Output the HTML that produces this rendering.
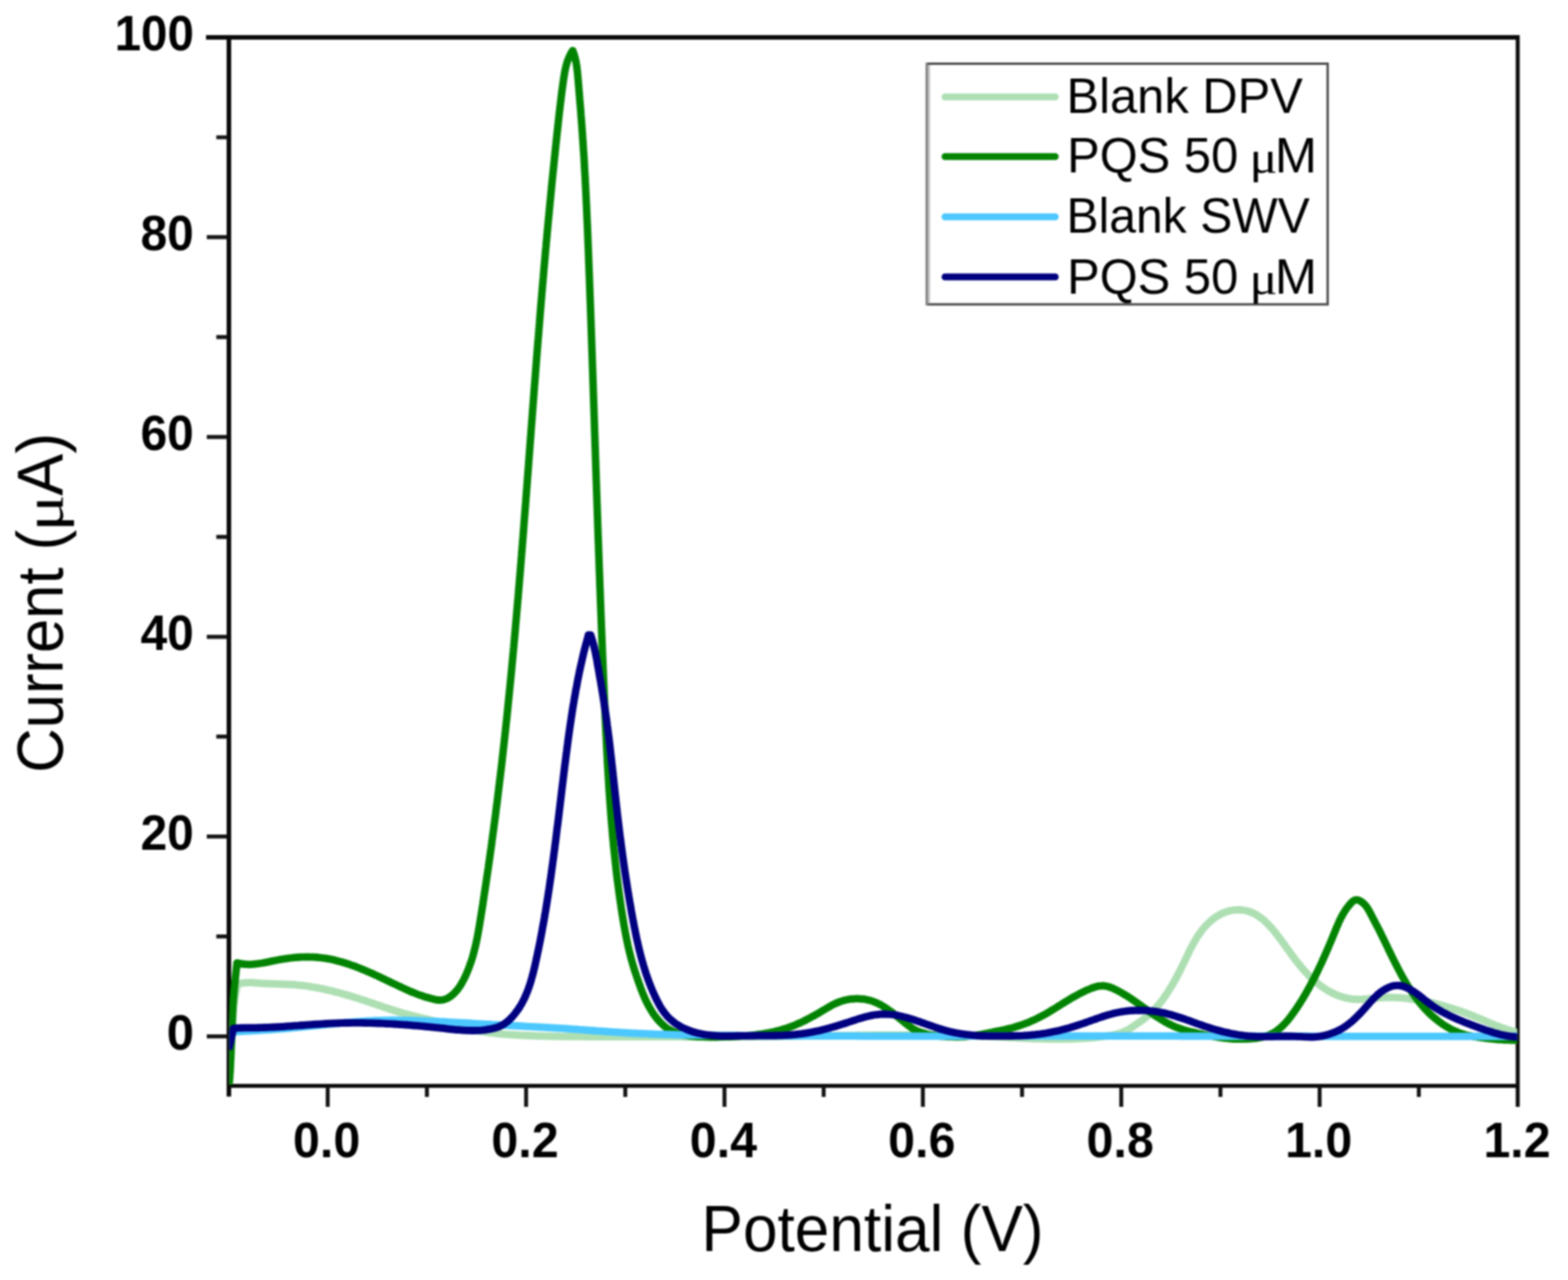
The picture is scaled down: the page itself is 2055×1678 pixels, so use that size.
<!DOCTYPE html>
<html lang="en">
<head>
<meta charset="utf-8">
<title>DPV and SWV voltammograms</title>
<style>
html,body{margin:0;padding:0;background:#fff}
body{width:2055px;height:1678px;overflow:hidden}
svg{display:block;filter:blur(0.8px)}
text{font-family:"Liberation Sans",sans-serif;fill:#000}
.b{font-weight:bold}
.s{font-family:"Liberation Serif",serif}
.c{fill:none;stroke-width:9.8;stroke-linejoin:round;stroke-linecap:butt}
.f{stroke:#141414;fill:none}
</style>
</head>
<body>
<svg width="2055" height="1678" viewBox="0 0 2055 1678">
<rect x="0" y="0" width="2055" height="1678" fill="#ffffff"/>
<defs><clipPath id="plot"><rect x="300.5" y="52" width="1688" height="1370"/></clipPath></defs>
<g fill="#0a0a0a">
<rect x="270" y="46" width="1721" height="6"/>
<rect x="300" y="1420.9" width="1691" height="5.2"/>
<rect x="297" y="46" width="6" height="1391.5"/>
<rect x="1986.5" y="46" width="5.2" height="1405"/>
</g>
<g clip-path="url(#plot)">
<path class="c" stroke="#addfb3" d="M299.5 1430.0C300.1 1421.7 301.9 1398.3 303.0 1380.0C304.1 1361.7 305.0 1334.9 306.3 1320.0C307.6 1305.1 310.2 1295.4 311.0 1290.5L311.0 1290.5C311.8 1290.3 314.2 1289.4 315.8 1289.1C317.4 1288.7 319.0 1288.5 320.7 1288.3C322.3 1288.2 323.9 1288.1 325.6 1288.1C327.3 1288.1 328.9 1288.2 330.6 1288.2C332.3 1288.3 333.9 1288.5 335.6 1288.6C337.3 1288.7 339.0 1288.8 340.6 1288.9C342.3 1289.1 344.0 1289.2 345.7 1289.3C347.3 1289.3 349.0 1289.4 350.7 1289.5C352.4 1289.6 354.0 1289.6 355.7 1289.7C357.4 1289.7 359.1 1289.8 360.7 1289.8C362.4 1289.9 364.1 1289.9 365.8 1290.0C367.4 1290.0 369.1 1290.1 370.8 1290.1C372.4 1290.2 374.1 1290.3 375.8 1290.3C377.4 1290.4 379.1 1290.5 380.8 1290.6C382.4 1290.7 384.1 1290.8 385.7 1290.9C387.4 1291.1 389.0 1291.2 390.7 1291.4C392.4 1291.5 394.0 1291.7 395.7 1291.9C397.3 1292.1 399.0 1292.3 400.6 1292.5C402.3 1292.8 403.9 1293.0 405.5 1293.2C407.2 1293.5 408.8 1293.8 410.5 1294.0C412.1 1294.3 413.7 1294.6 415.4 1294.9C417.0 1295.2 418.6 1295.5 420.3 1295.9C421.9 1296.2 423.5 1296.5 425.2 1296.9C426.8 1297.2 428.4 1297.6 430.0 1298.0C431.7 1298.4 433.3 1298.7 434.9 1299.1C436.5 1299.5 438.1 1299.9 439.8 1300.4C441.4 1300.8 443.0 1301.2 444.6 1301.6C446.2 1302.1 447.8 1302.5 449.4 1303.0C451.0 1303.4 452.7 1303.9 454.3 1304.3C455.9 1304.8 457.5 1305.3 459.1 1305.8C460.7 1306.2 462.3 1306.7 463.9 1307.2C465.5 1307.7 467.0 1308.2 468.6 1308.7C470.2 1309.2 471.8 1309.7 473.4 1310.3C475.0 1310.8 476.6 1311.3 478.2 1311.8C479.8 1312.3 481.3 1312.9 482.9 1313.4C484.5 1313.9 486.1 1314.5 487.7 1315.0C489.2 1315.5 490.8 1316.1 492.4 1316.6C494.0 1317.2 495.5 1317.7 497.1 1318.2C498.7 1318.8 500.3 1319.3 501.8 1319.8C503.4 1320.4 505.0 1320.9 506.6 1321.4C508.2 1322.0 509.7 1322.5 511.3 1323.0C512.9 1323.5 514.5 1324.0 516.1 1324.5C517.7 1325.0 519.2 1325.5 520.8 1326.0C522.4 1326.5 524.0 1327.0 525.6 1327.4C527.2 1327.9 528.8 1328.3 530.4 1328.8C532.0 1329.2 533.6 1329.7 535.2 1330.1C536.8 1330.5 538.5 1331.0 540.1 1331.4C541.7 1331.8 543.3 1332.2 544.9 1332.6C546.5 1333.0 548.2 1333.4 549.8 1333.8C551.4 1334.2 553.0 1334.6 554.6 1335.0C556.3 1335.4 557.9 1335.7 559.5 1336.1C561.1 1336.5 562.8 1336.9 564.4 1337.3C566.0 1337.6 567.6 1338.0 569.3 1338.4C570.9 1338.8 572.5 1339.2 574.1 1339.5C575.8 1339.9 577.4 1340.3 579.0 1340.7C580.6 1341.1 582.3 1341.4 583.9 1341.8C585.5 1342.2 587.1 1342.6 588.8 1343.0C590.4 1343.4 592.0 1343.8 593.6 1344.2C595.3 1344.5 596.9 1344.9 598.5 1345.3C600.1 1345.7 601.8 1346.1 603.4 1346.4C605.0 1346.8 606.6 1347.2 608.2 1347.5C609.9 1347.9 611.5 1348.3 613.1 1348.6C614.8 1349.0 616.4 1349.3 618.0 1349.7C619.6 1350.0 621.3 1350.3 622.9 1350.6C624.5 1351.0 626.2 1351.3 627.8 1351.6C629.5 1351.9 631.1 1352.1 632.7 1352.4C634.4 1352.7 636.0 1353.0 637.7 1353.2C639.3 1353.4 641.0 1353.7 642.6 1353.9C644.3 1354.1 645.9 1354.3 647.6 1354.5C649.2 1354.7 650.9 1354.9 652.5 1355.1C654.2 1355.2 655.9 1355.4 657.5 1355.5C659.2 1355.7 660.8 1355.8 662.5 1355.9C664.2 1356.1 665.8 1356.2 667.5 1356.3C669.2 1356.4 670.8 1356.5 672.5 1356.6C674.2 1356.7 675.8 1356.8 677.5 1356.9C679.2 1357.0 680.8 1357.1 682.5 1357.2C684.2 1357.2 685.8 1357.3 687.5 1357.4C689.2 1357.5 690.8 1357.5 692.5 1357.6C694.2 1357.7 695.8 1357.7 697.5 1357.8C699.2 1357.9 700.8 1357.9 702.5 1358.0C704.2 1358.0 705.8 1358.1 707.5 1358.1C709.2 1358.2 710.8 1358.2 712.5 1358.3C714.2 1358.3 715.8 1358.4 717.5 1358.4C719.2 1358.4 720.8 1358.5 722.5 1358.5C724.2 1358.5 725.8 1358.6 727.5 1358.6C729.2 1358.6 730.8 1358.7 732.5 1358.7C734.2 1358.7 735.8 1358.7 737.5 1358.8C739.2 1358.8 740.8 1358.8 742.5 1358.8C744.2 1358.8 745.8 1358.8 747.5 1358.9C749.2 1358.9 750.8 1358.9 752.5 1358.9C754.2 1358.9 755.8 1358.9 757.5 1358.9C759.2 1358.9 760.8 1358.9 762.5 1358.9C764.2 1359.0 765.8 1359.0 767.5 1359.0C769.2 1359.0 770.8 1359.0 772.5 1359.0C774.2 1359.0 775.8 1359.0 777.5 1359.0C779.2 1359.0 780.8 1359.0 782.5 1359.0C784.2 1359.0 785.8 1359.0 787.5 1359.0C789.2 1359.0 790.8 1359.0 792.5 1359.0C794.2 1359.0 795.8 1359.0 797.5 1359.0C799.2 1359.0 800.8 1359.0 802.5 1359.0C804.2 1359.0 805.8 1359.0 807.5 1359.0C809.2 1359.0 810.8 1359.0 812.5 1359.0C814.2 1359.0 815.8 1359.0 817.5 1359.0C819.2 1359.0 820.8 1359.0 822.5 1359.0C824.2 1359.1 825.8 1359.1 827.5 1359.1C829.2 1359.1 830.8 1359.1 832.5 1359.1C834.2 1359.1 835.8 1359.1 837.5 1359.1C839.2 1359.1 840.8 1359.1 842.5 1359.1C844.2 1359.1 845.8 1359.1 847.5 1359.1C849.2 1359.1 850.8 1359.1 852.5 1359.1C854.2 1359.1 855.8 1359.1 857.5 1359.1C859.2 1359.2 860.8 1359.2 862.5 1359.2C864.2 1359.2 865.8 1359.2 867.5 1359.2C869.2 1359.2 870.8 1359.2 872.5 1359.2C874.2 1359.2 875.8 1359.2 877.5 1359.2C879.2 1359.2 880.8 1359.2 882.5 1359.2C884.2 1359.2 885.8 1359.2 887.5 1359.2C889.2 1359.2 890.9 1359.2 892.5 1359.2C894.2 1359.3 895.9 1359.3 897.5 1359.3C899.2 1359.3 900.9 1359.3 902.5 1359.3C904.2 1359.3 905.9 1359.3 907.5 1359.3C909.2 1359.3 910.9 1359.3 912.5 1359.3C914.2 1359.3 915.9 1359.3 917.5 1359.3C919.2 1359.3 920.9 1359.3 922.5 1359.3C924.2 1359.3 925.9 1359.3 927.5 1359.3C929.2 1359.3 930.9 1359.3 932.5 1359.3C934.2 1359.3 935.9 1359.3 937.5 1359.3C939.2 1359.3 940.9 1359.3 942.5 1359.3C944.2 1359.3 945.9 1359.3 947.5 1359.3C949.2 1359.3 950.9 1359.3 952.5 1359.3C954.2 1359.3 955.9 1359.3 957.5 1359.3C959.2 1359.3 960.9 1359.2 962.5 1359.2C964.2 1359.2 965.9 1359.2 967.5 1359.2C969.2 1359.2 970.9 1359.2 972.5 1359.2C974.2 1359.2 975.9 1359.2 977.5 1359.2C979.2 1359.2 980.9 1359.2 982.5 1359.1C984.2 1359.1 985.9 1359.1 987.5 1359.1C989.2 1359.1 990.9 1359.1 992.5 1359.1C994.2 1359.1 995.8 1359.0 997.5 1359.0C999.2 1359.0 1000.8 1359.0 1002.5 1359.0C1004.2 1359.0 1005.8 1358.9 1007.5 1358.9C1009.2 1358.9 1010.8 1358.9 1012.5 1358.9C1014.2 1358.9 1015.8 1358.8 1017.5 1358.8C1019.2 1358.8 1020.8 1358.8 1022.5 1358.8C1024.1 1358.7 1025.8 1358.7 1027.5 1358.7C1029.1 1358.7 1030.8 1358.6 1032.5 1358.6C1034.1 1358.6 1035.8 1358.6 1037.5 1358.5C1039.1 1358.5 1040.8 1358.5 1042.5 1358.5C1044.1 1358.5 1045.8 1358.4 1047.4 1358.4C1049.1 1358.4 1050.8 1358.4 1052.4 1358.3C1054.1 1358.3 1055.8 1358.3 1057.4 1358.2C1059.1 1358.2 1060.8 1358.2 1062.4 1358.2C1064.1 1358.1 1065.7 1358.1 1067.4 1358.1C1069.1 1358.1 1070.7 1358.0 1072.4 1358.0C1074.1 1358.0 1075.7 1358.0 1077.4 1357.9C1079.1 1357.9 1080.7 1357.9 1082.4 1357.9C1084.0 1357.8 1085.7 1357.8 1087.4 1357.8C1089.0 1357.7 1090.7 1357.7 1092.4 1357.7C1094.0 1357.7 1095.7 1357.6 1097.4 1357.6C1099.0 1357.6 1100.7 1357.6 1102.3 1357.5C1104.0 1357.5 1105.7 1357.5 1107.3 1357.5C1109.0 1357.4 1110.7 1357.4 1112.3 1357.4C1114.0 1357.4 1115.7 1357.4 1117.3 1357.3C1119.0 1357.3 1120.7 1357.3 1122.3 1357.3C1124.0 1357.2 1125.6 1357.2 1127.3 1357.2C1129.0 1357.2 1130.6 1357.2 1132.3 1357.1C1134.0 1357.1 1135.6 1357.1 1137.3 1357.1C1139.0 1357.1 1140.6 1357.0 1142.3 1357.0C1144.0 1357.0 1145.6 1357.0 1147.3 1357.0C1148.9 1357.0 1150.6 1356.9 1152.3 1356.9C1153.9 1356.9 1155.6 1356.9 1157.3 1356.9C1158.9 1356.9 1160.6 1356.9 1162.3 1356.9C1163.9 1356.8 1165.6 1356.8 1167.3 1356.8C1168.9 1356.8 1170.6 1356.8 1172.3 1356.8C1173.9 1356.8 1175.6 1356.8 1177.3 1356.8C1178.9 1356.8 1180.6 1356.8 1182.3 1356.8C1183.9 1356.8 1185.6 1356.8 1187.3 1356.8C1188.9 1356.8 1190.6 1356.8 1192.3 1356.8C1193.9 1356.8 1195.6 1356.8 1197.3 1356.8C1198.9 1356.8 1200.6 1356.8 1202.3 1356.8C1203.9 1356.8 1205.6 1356.8 1207.3 1356.8C1208.9 1356.8 1210.6 1356.8 1212.3 1356.8C1213.9 1356.9 1215.6 1356.9 1217.3 1356.9C1218.9 1356.9 1220.6 1356.9 1222.3 1356.9C1223.9 1357.0 1225.6 1357.0 1227.3 1357.0C1229.0 1357.0 1230.6 1357.0 1232.3 1357.1C1234.0 1357.1 1235.6 1357.1 1237.3 1357.1C1239.0 1357.2 1240.6 1357.2 1242.3 1357.2C1244.0 1357.2 1245.7 1357.3 1247.3 1357.3C1249.0 1357.3 1250.7 1357.4 1252.3 1357.4C1254.0 1357.5 1255.7 1357.5 1257.4 1357.5C1259.0 1357.6 1260.7 1357.6 1262.4 1357.7C1264.0 1357.7 1265.7 1357.7 1267.4 1357.8C1269.1 1357.8 1270.7 1357.9 1272.4 1357.9C1274.1 1358.0 1275.7 1358.0 1277.4 1358.1C1279.1 1358.2 1280.8 1358.2 1282.4 1358.3C1284.1 1358.3 1285.8 1358.4 1287.5 1358.5C1289.1 1358.5 1290.8 1358.6 1292.5 1358.7C1294.2 1358.7 1295.8 1358.8 1297.5 1358.9C1299.2 1358.9 1300.9 1359.0 1302.5 1359.1C1304.2 1359.2 1305.9 1359.3 1307.6 1359.3C1309.2 1359.4 1310.9 1359.5 1312.6 1359.6C1314.3 1359.7 1316.0 1359.7 1317.6 1359.8C1319.3 1359.9 1321.0 1360.0 1322.7 1360.1C1324.3 1360.2 1326.0 1360.3 1327.7 1360.3C1329.4 1360.4 1331.0 1360.5 1332.7 1360.6C1334.4 1360.7 1336.1 1360.8 1337.8 1360.8C1339.4 1360.9 1341.1 1361.0 1342.8 1361.1C1344.5 1361.1 1346.1 1361.2 1347.8 1361.3C1349.5 1361.4 1351.2 1361.4 1352.8 1361.5C1354.5 1361.6 1356.2 1361.6 1357.9 1361.7C1359.5 1361.7 1361.2 1361.8 1362.9 1361.9C1364.6 1361.9 1366.2 1362.0 1367.9 1362.0C1369.6 1362.0 1371.2 1362.1 1372.9 1362.1C1374.6 1362.1 1376.3 1362.2 1377.9 1362.2C1379.6 1362.2 1381.3 1362.2 1382.9 1362.2C1384.6 1362.3 1386.3 1362.3 1387.9 1362.3C1389.6 1362.3 1391.3 1362.3 1392.9 1362.2C1394.6 1362.2 1396.3 1362.2 1397.9 1362.2C1399.6 1362.1 1401.3 1362.1 1402.9 1362.1C1404.6 1362.0 1406.3 1362.0 1407.9 1361.9C1409.6 1361.8 1411.2 1361.8 1412.9 1361.7C1414.5 1361.6 1416.2 1361.5 1417.9 1361.4C1419.5 1361.3 1421.2 1361.2 1422.8 1361.1C1424.5 1361.0 1426.1 1360.9 1427.8 1360.7C1429.4 1360.6 1431.1 1360.4 1432.7 1360.3C1434.4 1360.1 1436.0 1359.9 1437.7 1359.8C1439.3 1359.6 1441.0 1359.4 1442.6 1359.2C1444.3 1359.0 1445.9 1358.7 1447.5 1358.5C1449.2 1358.3 1450.8 1358.0 1452.5 1357.8C1454.1 1357.5 1455.7 1357.3 1457.4 1357.0C1459.0 1356.7 1460.6 1356.4 1462.2 1356.0C1463.9 1355.6 1465.5 1355.2 1467.0 1354.8C1468.6 1354.3 1470.2 1353.7 1471.7 1353.1C1473.2 1352.5 1474.7 1351.7 1476.2 1351.0C1477.7 1350.2 1479.1 1349.4 1480.5 1348.5C1482.0 1347.6 1483.4 1346.7 1484.8 1345.8C1486.2 1344.9 1487.6 1343.9 1489.0 1343.0C1490.4 1342.0 1491.8 1341.1 1493.2 1340.1C1494.6 1339.2 1495.9 1338.2 1497.3 1337.2C1498.6 1336.2 1500.0 1335.2 1501.3 1334.2C1502.6 1333.2 1503.9 1332.1 1505.1 1331.0C1506.4 1329.9 1507.6 1328.8 1508.8 1327.7C1510.0 1326.5 1511.2 1325.3 1512.4 1324.1C1513.5 1322.9 1514.7 1321.7 1515.8 1320.4C1516.9 1319.2 1517.9 1317.9 1519.0 1316.6C1520.0 1315.3 1521.1 1314.0 1522.1 1312.7C1523.1 1311.3 1524.1 1310.0 1525.1 1308.6C1526.0 1307.3 1527.0 1305.9 1527.9 1304.6C1528.9 1303.2 1529.8 1301.8 1530.7 1300.4C1531.6 1299.0 1532.5 1297.6 1533.3 1296.2C1534.2 1294.8 1535.1 1293.4 1535.9 1292.0C1536.8 1290.5 1537.6 1289.1 1538.4 1287.6C1539.2 1286.2 1540.0 1284.7 1540.8 1283.3C1541.6 1281.8 1542.4 1280.4 1543.2 1278.9C1543.9 1277.4 1544.7 1275.9 1545.5 1274.5C1546.2 1273.0 1547.0 1271.5 1547.7 1270.0C1548.5 1268.5 1549.2 1267.0 1549.9 1265.5C1550.7 1264.0 1551.4 1262.5 1552.1 1261.0C1552.9 1259.5 1553.6 1257.9 1554.3 1256.4C1555.0 1254.9 1555.8 1253.4 1556.5 1251.9C1557.2 1250.4 1557.9 1248.8 1558.7 1247.3C1559.4 1245.8 1560.2 1244.3 1560.9 1242.8C1561.7 1241.4 1562.5 1239.9 1563.3 1238.4C1564.1 1236.9 1564.9 1235.5 1565.7 1234.0C1566.5 1232.6 1567.4 1231.2 1568.2 1229.7C1569.1 1228.3 1570.0 1226.9 1570.9 1225.6C1571.9 1224.2 1572.8 1222.8 1573.8 1221.5C1574.8 1220.2 1575.8 1218.9 1576.8 1217.6C1577.9 1216.3 1578.9 1215.1 1580.1 1213.8C1581.2 1212.6 1582.3 1211.4 1583.5 1210.3C1584.7 1209.1 1586.0 1208.0 1587.3 1206.9C1588.5 1205.8 1589.9 1204.8 1591.2 1203.8C1592.6 1202.8 1594.0 1201.8 1595.4 1200.9C1596.8 1200.1 1598.3 1199.2 1599.8 1198.4C1601.3 1197.7 1602.8 1197.0 1604.3 1196.3C1605.9 1195.7 1607.5 1195.1 1609.1 1194.7C1610.7 1194.2 1612.3 1193.8 1614.0 1193.5C1615.6 1193.1 1617.3 1192.9 1618.9 1192.8C1620.6 1192.6 1622.3 1192.6 1623.9 1192.6C1625.6 1192.7 1627.3 1192.8 1628.9 1193.0C1630.6 1193.2 1632.2 1193.6 1633.8 1194.0C1635.4 1194.4 1637.0 1194.9 1638.6 1195.5C1640.1 1196.0 1641.7 1196.7 1643.1 1197.4C1644.6 1198.1 1646.1 1198.9 1647.5 1199.8C1648.9 1200.7 1650.3 1201.6 1651.6 1202.6C1653.0 1203.5 1654.3 1204.6 1655.5 1205.6C1656.8 1206.7 1658.0 1207.9 1659.2 1209.0C1660.5 1210.2 1661.6 1211.4 1662.8 1212.6C1664.0 1213.8 1665.1 1215.1 1666.2 1216.3C1667.3 1217.6 1668.4 1218.9 1669.5 1220.2C1670.6 1221.5 1671.6 1222.8 1672.7 1224.1C1673.7 1225.5 1674.7 1226.8 1675.7 1228.1C1676.7 1229.4 1677.7 1230.8 1678.7 1232.1C1679.7 1233.5 1680.7 1234.8 1681.7 1236.1C1682.7 1237.5 1683.6 1238.8 1684.6 1240.2C1685.6 1241.5 1686.5 1242.9 1687.5 1244.2C1688.5 1245.6 1689.4 1246.9 1690.4 1248.3C1691.4 1249.6 1692.4 1250.9 1693.3 1252.3C1694.3 1253.6 1695.3 1254.9 1696.3 1256.3C1697.3 1257.6 1698.3 1258.9 1699.3 1260.2C1700.3 1261.5 1701.3 1262.8 1702.4 1264.1C1703.4 1265.4 1704.5 1266.7 1705.6 1268.0C1706.6 1269.3 1707.7 1270.6 1708.9 1271.8C1710.0 1273.1 1711.1 1274.3 1712.3 1275.5C1713.4 1276.8 1714.6 1278.0 1715.8 1279.2C1717.0 1280.4 1718.2 1281.5 1719.5 1282.7C1720.7 1283.8 1721.9 1285.0 1723.2 1286.1C1724.5 1287.2 1725.8 1288.3 1727.1 1289.3C1728.4 1290.4 1729.7 1291.4 1731.1 1292.4C1732.4 1293.4 1733.8 1294.4 1735.2 1295.3C1736.6 1296.2 1738.0 1297.1 1739.4 1298.0C1740.8 1298.8 1742.2 1299.7 1743.7 1300.5C1745.1 1301.2 1746.6 1302.0 1748.1 1302.7C1749.6 1303.4 1751.1 1304.0 1752.6 1304.6C1754.1 1305.3 1755.6 1305.8 1757.2 1306.3C1758.7 1306.9 1760.3 1307.3 1761.9 1307.7C1763.4 1308.1 1765.0 1308.5 1766.6 1308.8C1768.2 1309.1 1769.9 1309.4 1771.5 1309.6C1773.1 1309.8 1774.8 1309.9 1776.4 1310.0C1778.1 1310.1 1779.7 1310.1 1781.4 1310.1C1783.1 1310.1 1784.8 1310.0 1786.5 1309.9C1788.2 1309.8 1789.9 1309.7 1791.6 1309.6C1793.3 1309.5 1795.0 1309.3 1796.7 1309.2C1798.4 1309.0 1800.1 1308.8 1801.8 1308.7C1803.5 1308.5 1805.2 1308.3 1806.9 1308.2C1808.6 1308.0 1810.3 1307.9 1812.0 1307.8C1813.7 1307.7 1815.4 1307.6 1817.1 1307.5C1818.8 1307.5 1820.4 1307.5 1822.1 1307.5C1823.8 1307.5 1825.4 1307.5 1827.1 1307.6C1828.7 1307.6 1830.4 1307.7 1832.0 1307.8C1833.7 1307.9 1835.3 1308.1 1837.0 1308.2C1838.6 1308.4 1840.2 1308.5 1841.9 1308.7C1843.5 1308.9 1845.2 1309.1 1846.8 1309.3C1848.4 1309.5 1850.1 1309.7 1851.7 1309.9C1853.4 1310.2 1855.0 1310.4 1856.6 1310.7C1858.3 1311.0 1859.9 1311.2 1861.5 1311.5C1863.2 1311.8 1864.8 1312.1 1866.4 1312.5C1868.1 1312.8 1869.7 1313.1 1871.3 1313.5C1873.0 1313.8 1874.6 1314.2 1876.2 1314.5C1877.8 1314.9 1879.5 1315.3 1881.1 1315.7C1882.7 1316.1 1884.3 1316.5 1885.9 1316.9C1887.6 1317.4 1889.2 1317.8 1890.8 1318.2C1892.4 1318.7 1894.0 1319.1 1895.6 1319.6C1897.2 1320.1 1898.8 1320.6 1900.4 1321.1C1902.0 1321.6 1903.6 1322.1 1905.2 1322.6C1906.8 1323.1 1908.4 1323.6 1910.0 1324.2C1911.5 1324.7 1913.1 1325.3 1914.7 1325.8C1916.3 1326.4 1917.8 1326.9 1919.4 1327.5C1921.0 1328.1 1922.5 1328.7 1924.1 1329.3C1925.7 1329.9 1927.2 1330.5 1928.8 1331.1C1930.3 1331.7 1931.8 1332.4 1933.4 1333.0C1934.9 1333.6 1936.5 1334.3 1938.0 1334.9C1939.5 1335.5 1941.1 1336.2 1942.6 1336.8C1944.1 1337.5 1945.7 1338.1 1947.2 1338.8C1948.7 1339.4 1950.3 1340.1 1951.8 1340.7C1953.3 1341.3 1954.9 1342.0 1956.4 1342.6C1958.0 1343.2 1959.5 1343.9 1961.0 1344.5C1962.6 1345.1 1964.1 1345.7 1965.7 1346.3C1967.2 1346.9 1968.8 1347.5 1970.4 1348.0C1971.9 1348.6 1973.5 1349.1 1975.1 1349.7C1976.7 1350.2 1978.2 1350.7 1979.8 1351.2C1981.4 1351.7 1983.0 1352.2 1984.6 1352.7C1986.2 1353.1 1988.7 1353.8 1989.5 1354.0"/>
<path class="c" stroke="#028402" d="M299.0 1430.0C299.4 1425.7 300.5 1422.9 301.6 1404.0C302.7 1385.1 303.9 1340.4 305.4 1316.8C306.9 1293.2 309.7 1271.4 310.6 1262.3L310.6 1262.3C311.4 1262.5 314.0 1263.1 315.7 1263.4C317.4 1263.7 319.0 1263.9 320.7 1264.0C322.4 1264.2 324.0 1264.2 325.7 1264.3C327.4 1264.3 329.0 1264.2 330.7 1264.1C332.3 1264.0 333.9 1263.9 335.6 1263.7C337.2 1263.5 338.9 1263.3 340.5 1263.0C342.1 1262.8 343.8 1262.5 345.4 1262.2C347.0 1261.9 348.7 1261.6 350.3 1261.2C351.9 1260.9 353.6 1260.6 355.2 1260.2C356.9 1259.9 358.5 1259.5 360.1 1259.2C361.8 1258.9 363.4 1258.6 365.1 1258.3C366.7 1258.0 368.4 1257.7 370.1 1257.4C371.7 1257.1 373.4 1256.9 375.1 1256.6C376.7 1256.4 378.4 1256.2 380.1 1256.0C381.7 1255.8 383.4 1255.6 385.1 1255.4C386.8 1255.3 388.4 1255.1 390.1 1255.0C391.8 1254.9 393.5 1254.8 395.1 1254.7C396.8 1254.7 398.5 1254.6 400.2 1254.6C401.8 1254.5 403.5 1254.5 405.2 1254.6C406.8 1254.6 408.5 1254.6 410.2 1254.7C411.8 1254.8 413.5 1254.9 415.2 1255.0C416.8 1255.1 418.5 1255.3 420.1 1255.5C421.8 1255.7 423.4 1255.9 425.0 1256.1C426.7 1256.3 428.3 1256.6 429.9 1256.9C431.6 1257.2 433.2 1257.5 434.8 1257.8C436.4 1258.2 438.0 1258.5 439.6 1258.9C441.2 1259.3 442.8 1259.7 444.4 1260.2C446.0 1260.6 447.6 1261.0 449.2 1261.5C450.8 1262.0 452.4 1262.5 454.0 1263.0C455.6 1263.5 457.2 1264.0 458.7 1264.6C460.3 1265.1 461.9 1265.7 463.4 1266.2C465.0 1266.8 466.6 1267.4 468.1 1268.0C469.7 1268.6 471.3 1269.2 472.8 1269.9C474.4 1270.5 475.9 1271.1 477.5 1271.8C479.0 1272.4 480.6 1273.1 482.1 1273.8C483.7 1274.4 485.2 1275.1 486.8 1275.8C488.3 1276.5 489.8 1277.2 491.4 1277.9C492.9 1278.6 494.4 1279.3 496.0 1280.0C497.5 1280.7 499.0 1281.4 500.6 1282.2C502.1 1282.9 503.6 1283.6 505.1 1284.3C506.7 1285.1 508.2 1285.8 509.7 1286.5C511.2 1287.2 512.7 1288.0 514.2 1288.7C515.8 1289.4 517.3 1290.1 518.8 1290.8C520.3 1291.6 521.8 1292.3 523.3 1293.0C524.8 1293.7 526.4 1294.4 527.9 1295.1C529.4 1295.8 530.9 1296.5 532.4 1297.2C533.9 1297.9 535.4 1298.5 537.0 1299.2C538.5 1299.9 540.0 1300.5 541.5 1301.1C543.1 1301.8 544.6 1302.4 546.2 1303.0C547.7 1303.6 549.3 1304.2 550.8 1304.7C552.4 1305.3 553.9 1305.8 555.5 1306.3C557.1 1306.9 558.7 1307.3 560.3 1307.8C561.9 1308.3 563.5 1308.7 565.1 1309.1C566.8 1309.5 568.4 1310.0 570.1 1310.3C571.7 1310.6 573.4 1310.9 575.0 1311.0C576.7 1311.1 578.3 1311.1 579.9 1310.8C581.5 1310.6 583.1 1310.1 584.6 1309.5C586.2 1308.9 587.7 1308.0 589.1 1307.1C590.5 1306.2 591.9 1305.1 593.2 1304.0C594.5 1302.9 595.7 1301.7 596.9 1300.4C598.1 1299.2 599.1 1297.8 600.2 1296.5C601.2 1295.1 602.2 1293.7 603.1 1292.3C604.0 1290.9 604.9 1289.4 605.7 1288.0C606.5 1286.5 607.3 1285.0 608.1 1283.5C608.9 1282.0 609.6 1280.4 610.3 1278.9C611.0 1277.4 611.7 1275.8 612.3 1274.3C613.0 1272.7 613.6 1271.2 614.2 1269.6C614.8 1268.1 615.4 1266.5 615.9 1264.9C616.5 1263.4 617.0 1261.8 617.6 1260.2C618.1 1258.6 618.6 1257.0 619.1 1255.5C619.5 1253.9 620.0 1252.3 620.4 1250.7C620.9 1249.1 621.3 1247.4 621.7 1245.8C622.1 1244.2 622.5 1242.6 622.9 1241.0C623.3 1239.4 623.7 1237.7 624.0 1236.1C624.4 1234.5 624.7 1232.9 625.1 1231.2C625.4 1229.6 625.7 1227.9 626.0 1226.3C626.3 1224.7 626.6 1223.0 626.9 1221.4C627.2 1219.7 627.5 1218.1 627.8 1216.4C628.1 1214.8 628.4 1213.1 628.6 1211.5C628.9 1209.8 629.2 1208.2 629.4 1206.5C629.7 1204.9 630.0 1203.2 630.2 1201.6C630.5 1199.9 630.8 1198.3 631.0 1196.6C631.3 1195.0 631.5 1193.3 631.8 1191.7C632.0 1190.0 632.3 1188.4 632.6 1186.7C632.8 1185.1 633.1 1183.4 633.3 1181.7C633.6 1180.1 633.8 1178.4 634.1 1176.8C634.3 1175.1 634.6 1173.5 634.8 1171.8C635.1 1170.2 635.3 1168.5 635.6 1166.9C635.8 1165.2 636.1 1163.6 636.3 1161.9C636.6 1160.2 636.8 1158.6 637.1 1156.9C637.3 1155.3 637.6 1153.6 637.8 1152.0C638.0 1150.3 638.3 1148.7 638.5 1147.0C638.8 1145.4 639.0 1143.7 639.3 1142.0C639.5 1140.4 639.7 1138.7 640.0 1137.1C640.2 1135.4 640.4 1133.8 640.7 1132.1C640.9 1130.5 641.2 1128.8 641.4 1127.2C641.6 1125.5 641.9 1123.8 642.1 1122.2C642.3 1120.5 642.6 1118.9 642.8 1117.2C643.0 1115.6 643.2 1113.9 643.5 1112.3C643.7 1110.6 643.9 1108.9 644.2 1107.3C644.4 1105.6 644.6 1104.0 644.8 1102.3C645.1 1100.7 645.3 1099.0 645.5 1097.3C645.7 1095.7 646.0 1094.0 646.2 1092.4C646.4 1090.7 646.6 1089.1 646.9 1087.4C647.1 1085.7 647.3 1084.1 647.5 1082.4C647.7 1080.8 648.0 1079.1 648.2 1077.5C648.4 1075.8 648.6 1074.2 648.8 1072.5C649.0 1070.8 649.3 1069.2 649.5 1067.5C649.7 1065.9 649.9 1064.2 650.1 1062.5C650.3 1060.9 650.5 1059.2 650.7 1057.6C650.9 1055.9 651.2 1054.3 651.4 1052.6C651.6 1050.9 651.8 1049.3 652.0 1047.6C652.2 1046.0 652.4 1044.3 652.6 1042.7C652.8 1041.0 653.0 1039.3 653.2 1037.7C653.4 1036.0 653.6 1034.4 653.8 1032.7C654.0 1031.0 654.2 1029.4 654.4 1027.7C654.6 1026.1 654.8 1024.4 655.0 1022.7C655.2 1021.1 655.4 1019.4 655.6 1017.8C655.8 1016.1 656.0 1014.5 656.2 1012.8C656.4 1011.1 656.6 1009.5 656.8 1007.8C657.0 1006.2 657.2 1004.5 657.4 1002.8C657.6 1001.2 657.8 999.5 658.0 997.9C658.1 996.2 658.3 994.5 658.5 992.9C658.7 991.2 658.9 989.6 659.1 987.9C659.3 986.2 659.5 984.6 659.6 982.9C659.8 981.3 660.0 979.6 660.2 977.9C660.4 976.3 660.6 974.6 660.8 973.0C660.9 971.3 661.1 969.6 661.3 968.0C661.5 966.3 661.7 964.6 661.8 963.0C662.0 961.3 662.2 959.7 662.4 958.0C662.6 956.3 662.7 954.7 662.9 953.0C663.1 951.4 663.3 949.7 663.4 948.0C663.6 946.4 663.8 944.7 664.0 943.1C664.1 941.4 664.3 939.7 664.5 938.1C664.7 936.4 664.8 934.7 665.0 933.1C665.2 931.4 665.4 929.8 665.5 928.1C665.7 926.4 665.9 924.8 666.0 923.1C666.2 921.4 666.4 919.8 666.5 918.1C666.7 916.5 666.9 914.8 667.0 913.1C667.2 911.5 667.4 909.8 667.5 908.2C667.7 906.5 667.9 904.8 668.0 903.2C668.2 901.5 668.4 899.8 668.5 898.2C668.7 896.5 668.9 894.8 669.0 893.2C669.2 891.5 669.3 889.9 669.5 888.2C669.7 886.5 669.8 884.9 670.0 883.2C670.1 881.5 670.3 879.9 670.5 878.2C670.6 876.6 670.8 874.9 670.9 873.2C671.1 871.6 671.2 869.9 671.4 868.2C671.6 866.6 671.7 864.9 671.9 863.2C672.0 861.6 672.2 859.9 672.3 858.3C672.5 856.6 672.6 854.9 672.8 853.3C672.9 851.6 673.1 849.9 673.3 848.3C673.4 846.6 673.6 844.9 673.7 843.3C673.9 841.6 674.0 840.0 674.2 838.3C674.3 836.6 674.5 835.0 674.6 833.3C674.8 831.6 674.9 830.0 675.1 828.3C675.2 826.6 675.4 825.0 675.5 823.3C675.6 821.7 675.8 820.0 675.9 818.3C676.1 816.7 676.2 815.0 676.4 813.3C676.5 811.7 676.7 810.0 676.8 808.3C677.0 806.7 677.1 805.0 677.2 803.3C677.4 801.7 677.5 800.0 677.7 798.3C677.8 796.7 678.0 795.0 678.1 793.4C678.3 791.7 678.4 790.0 678.5 788.4C678.7 786.7 678.8 785.0 679.0 783.4C679.1 781.7 679.2 780.0 679.4 778.4C679.5 776.7 679.7 775.0 679.8 773.4C679.9 771.7 680.1 770.0 680.2 768.4C680.4 766.7 680.5 765.0 680.6 763.4C680.8 761.7 680.9 760.0 681.0 758.4C681.2 756.7 681.3 755.1 681.5 753.4C681.6 751.7 681.7 750.1 681.9 748.4C682.0 746.7 682.1 745.1 682.3 743.4C682.4 741.7 682.5 740.1 682.7 738.4C682.8 736.7 682.9 735.1 683.1 733.4C683.2 731.7 683.3 730.1 683.5 728.4C683.6 726.7 683.7 725.1 683.9 723.4C684.0 721.7 684.1 720.1 684.3 718.4C684.4 716.7 684.5 715.1 684.7 713.4C684.8 711.7 684.9 710.1 685.1 708.4C685.2 706.7 685.3 705.1 685.5 703.4C685.6 701.7 685.7 700.1 685.9 698.4C686.0 696.7 686.1 695.1 686.3 693.4C686.4 691.7 686.5 690.1 686.6 688.4C686.8 686.8 686.9 685.1 687.0 683.4C687.2 681.8 687.3 680.1 687.4 678.4C687.5 676.8 687.7 675.1 687.8 673.4C687.9 671.8 688.1 670.1 688.2 668.4C688.3 666.8 688.4 665.1 688.6 663.4C688.7 661.8 688.8 660.1 689.0 658.4C689.1 656.8 689.2 655.1 689.3 653.4C689.5 651.8 689.6 650.1 689.7 648.4C689.9 646.8 690.0 645.1 690.1 643.4C690.2 641.8 690.4 640.1 690.5 638.4C690.6 636.8 690.7 635.1 690.9 633.4C691.0 631.8 691.1 630.1 691.2 628.4C691.4 626.8 691.5 625.1 691.6 623.4C691.8 621.8 691.9 620.1 692.0 618.4C692.1 616.8 692.3 615.1 692.4 613.4C692.5 611.8 692.6 610.1 692.8 608.4C692.9 606.8 693.0 605.1 693.1 603.4C693.3 601.8 693.4 600.1 693.5 598.4C693.6 596.8 693.8 595.1 693.9 593.4C694.0 591.8 694.1 590.1 694.3 588.4C694.4 586.8 694.5 585.1 694.6 583.4C694.8 581.8 694.9 580.1 695.0 578.4C695.1 576.8 695.3 575.1 695.4 573.4C695.5 571.8 695.6 570.1 695.8 568.4C695.9 566.8 696.0 565.1 696.1 563.4C696.3 561.8 696.4 560.1 696.5 558.4C696.7 556.8 696.8 555.1 696.9 553.4C697.0 551.8 697.2 550.1 697.3 548.4C697.4 546.8 697.5 545.1 697.7 543.4C697.8 541.8 697.9 540.1 698.0 538.4C698.2 536.8 698.3 535.1 698.4 533.4C698.5 531.8 698.7 530.1 698.8 528.4C698.9 526.8 699.0 525.1 699.2 523.4C699.3 521.8 699.4 520.1 699.6 518.4C699.7 516.8 699.8 515.1 699.9 513.4C700.1 511.8 700.2 510.1 700.3 508.4C700.4 506.8 700.6 505.1 700.7 503.4C700.8 501.8 701.0 500.1 701.1 498.4C701.2 496.8 701.3 495.1 701.5 493.4C701.6 491.8 701.7 490.1 701.9 488.4C702.0 486.8 702.1 485.1 702.2 483.4C702.4 481.8 702.5 480.1 702.6 478.4C702.8 476.8 702.9 475.1 703.0 473.4C703.2 471.8 703.3 470.1 703.4 468.4C703.5 466.8 703.7 465.1 703.8 463.4C703.9 461.8 704.1 460.1 704.2 458.4C704.3 456.8 704.5 455.1 704.6 453.4C704.7 451.8 704.9 450.1 705.0 448.4C705.1 446.8 705.2 445.1 705.4 443.5C705.5 441.8 705.6 440.1 705.8 438.5C705.9 436.8 706.0 435.1 706.2 433.5C706.3 431.8 706.4 430.1 706.6 428.5C706.7 426.8 706.8 425.1 707.0 423.5C707.1 421.8 707.3 420.1 707.4 418.5C707.5 416.8 707.7 415.1 707.8 413.5C707.9 411.8 708.1 410.1 708.2 408.5C708.3 406.8 708.5 405.1 708.6 403.5C708.8 401.8 708.9 400.1 709.0 398.5C709.2 396.8 709.3 395.1 709.4 393.5C709.6 391.8 709.7 390.2 709.9 388.5C710.0 386.8 710.1 385.2 710.3 383.5C710.4 381.8 710.6 380.2 710.7 378.5C710.8 376.8 711.0 375.2 711.1 373.5C711.3 371.8 711.4 370.2 711.6 368.5C711.7 366.8 711.8 365.2 712.0 363.5C712.1 361.8 712.3 360.2 712.4 358.5C712.6 356.9 712.7 355.2 712.8 353.5C713.0 351.9 713.1 350.2 713.3 348.5C713.4 346.9 713.6 345.2 713.7 343.5C713.9 341.9 714.0 340.2 714.2 338.5C714.3 336.9 714.5 335.2 714.6 333.6C714.7 331.9 714.9 330.2 715.0 328.6C715.2 326.9 715.3 325.2 715.5 323.6C715.6 321.9 715.8 320.2 715.9 318.6C716.1 316.9 716.2 315.2 716.4 313.6C716.6 311.9 716.7 310.3 716.9 308.6C717.0 306.9 717.2 305.3 717.3 303.6C717.5 301.9 717.6 300.3 717.8 298.6C717.9 296.9 718.1 295.3 718.2 293.6C718.4 292.0 718.6 290.3 718.7 288.6C718.9 287.0 719.0 285.3 719.2 283.6C719.3 282.0 719.5 280.3 719.7 278.6C719.8 277.0 720.0 275.3 720.1 273.7C720.3 272.0 720.5 270.3 720.6 268.7C720.8 267.0 720.9 265.3 721.1 263.7C721.3 262.0 721.4 260.4 721.6 258.7C721.7 257.0 721.9 255.4 722.1 253.7C722.2 252.0 722.4 250.4 722.6 248.7C722.7 247.0 722.9 245.4 723.0 243.7C723.2 242.1 723.4 240.4 723.5 238.7C723.7 237.1 723.9 235.4 724.0 233.7C724.2 232.1 724.4 230.4 724.5 228.8C724.7 227.1 724.9 225.4 725.0 223.8C725.2 222.1 725.4 220.4 725.6 218.8C725.7 217.1 725.9 215.5 726.1 213.8C726.2 212.1 726.4 210.5 726.6 208.8C726.7 207.1 726.9 205.5 727.1 203.8C727.3 202.2 727.4 200.5 727.6 198.8C727.8 197.2 727.9 195.5 728.1 193.9C728.3 192.2 728.5 190.5 728.6 188.9C728.8 187.2 729.0 185.5 729.2 183.9C729.3 182.2 729.5 180.6 729.7 178.9C729.9 177.2 730.1 175.6 730.2 173.9C730.4 172.2 730.6 170.6 730.8 168.9C730.9 167.3 731.1 165.6 731.3 163.9C731.5 162.3 731.7 160.6 731.8 159.0C732.0 157.3 732.2 155.6 732.4 154.0C732.6 152.3 732.8 150.6 732.9 149.0C733.1 147.3 733.3 145.7 733.5 144.0C733.7 142.3 733.9 140.7 734.1 139.0C734.3 137.4 734.5 135.7 734.7 134.0C734.9 132.4 735.1 130.7 735.3 129.1C735.5 127.4 735.7 125.7 735.9 124.1C736.1 122.4 736.3 120.8 736.5 119.1C736.8 117.5 737.0 115.8 737.2 114.1C737.4 112.5 737.7 110.8 737.9 109.2C738.1 107.5 738.4 105.8 738.6 104.2C738.8 102.5 739.1 100.9 739.4 99.2C739.6 97.6 739.9 95.9 740.2 94.3C740.5 92.6 740.8 91.0 741.2 89.4C741.5 87.8 741.9 86.2 742.4 84.6C742.8 83.0 743.3 81.4 743.9 79.8C744.4 78.2 745.0 76.7 745.7 75.2C746.4 73.6 747.1 72.1 747.9 70.7C748.7 69.2 750.2 67.0 750.6 66.3L750.6 66.3C750.9 67.1 751.8 69.5 752.3 71.0C752.8 72.6 753.3 74.2 753.7 75.9C754.1 77.5 754.5 79.1 754.8 80.7C755.1 82.4 755.4 84.0 755.7 85.6C755.9 87.3 756.1 88.9 756.3 90.6C756.5 92.2 756.7 93.9 756.9 95.6C757.0 97.2 757.2 98.9 757.3 100.5C757.5 102.2 757.6 103.9 757.8 105.5C757.9 107.2 758.0 108.9 758.2 110.5C758.3 112.2 758.5 113.9 758.6 115.5C758.7 117.2 758.9 118.9 759.0 120.5C759.2 122.2 759.3 123.8 759.4 125.5C759.6 127.2 759.7 128.8 759.8 130.5C760.0 132.2 760.1 133.8 760.2 135.5C760.4 137.2 760.5 138.8 760.7 140.5C760.8 142.1 760.9 143.8 761.1 145.5C761.2 147.1 761.3 148.8 761.4 150.5C761.6 152.1 761.7 153.8 761.8 155.4C762.0 157.1 762.1 158.8 762.2 160.4C762.3 162.1 762.5 163.8 762.6 165.4C762.7 167.1 762.8 168.8 762.9 170.4C763.1 172.1 763.2 173.7 763.3 175.4C763.4 177.1 763.5 178.7 763.6 180.4C763.8 182.1 763.9 183.7 764.0 185.4C764.1 187.1 764.2 188.7 764.3 190.4C764.4 192.0 764.5 193.7 764.6 195.4C764.7 197.0 764.9 198.7 765.0 200.4C765.1 202.0 765.2 203.7 765.3 205.4C765.4 207.0 765.5 208.7 765.6 210.4C765.7 212.0 765.8 213.7 765.9 215.4C765.9 217.0 766.0 218.7 766.1 220.4C766.2 222.0 766.3 223.7 766.4 225.3C766.5 227.0 766.6 228.7 766.7 230.3C766.8 232.0 766.9 233.7 767.0 235.3C767.0 237.0 767.1 238.7 767.2 240.3C767.3 242.0 767.4 243.7 767.5 245.3C767.6 247.0 767.6 248.7 767.7 250.3C767.8 252.0 767.9 253.7 768.0 255.3C768.0 257.0 768.1 258.7 768.2 260.3C768.3 262.0 768.4 263.7 768.4 265.3C768.5 267.0 768.6 268.7 768.7 270.3C768.7 272.0 768.8 273.7 768.9 275.3C769.0 277.0 769.0 278.7 769.1 280.3C769.2 282.0 769.3 283.7 769.3 285.3C769.4 287.0 769.5 288.7 769.5 290.3C769.6 292.0 769.7 293.7 769.8 295.3C769.8 297.0 769.9 298.7 770.0 300.3C770.0 302.0 770.1 303.7 770.2 305.3C770.2 307.0 770.3 308.7 770.4 310.3C770.4 312.0 770.5 313.7 770.6 315.4C770.6 317.0 770.7 318.7 770.8 320.4C770.8 322.0 770.9 323.7 771.0 325.4C771.0 327.0 771.1 328.7 771.2 330.4C771.2 332.0 771.3 333.7 771.4 335.4C771.4 337.0 771.5 338.7 771.5 340.4C771.6 342.0 771.7 343.7 771.7 345.4C771.8 347.0 771.9 348.7 771.9 350.4C772.0 352.0 772.0 353.7 772.1 355.4C772.2 357.0 772.2 358.7 772.3 360.4C772.4 362.0 772.4 363.7 772.5 365.4C772.5 367.0 772.6 368.7 772.7 370.4C772.7 372.0 772.8 373.7 772.8 375.4C772.9 377.0 773.0 378.7 773.0 380.4C773.1 382.0 773.2 383.7 773.2 385.4C773.3 387.0 773.3 388.7 773.4 390.4C773.5 392.0 773.5 393.7 773.6 395.4C773.6 397.1 773.7 398.7 773.8 400.4C773.8 402.1 773.9 403.7 773.9 405.4C774.0 407.1 774.1 408.7 774.1 410.4C774.2 412.1 774.2 413.7 774.3 415.4C774.3 417.1 774.4 418.7 774.5 420.4C774.5 422.1 774.6 423.7 774.6 425.4C774.7 427.1 774.8 428.7 774.8 430.4C774.9 432.1 774.9 433.7 775.0 435.4C775.0 437.1 775.1 438.7 775.2 440.4C775.2 442.1 775.3 443.7 775.3 445.4C775.4 447.1 775.4 448.7 775.5 450.4C775.6 452.1 775.6 453.7 775.7 455.4C775.7 457.1 775.8 458.7 775.8 460.4C775.9 462.1 776.0 463.7 776.0 465.4C776.1 467.1 776.1 468.7 776.2 470.4C776.2 472.1 776.3 473.7 776.4 475.4C776.4 477.1 776.5 478.7 776.5 480.4C776.6 482.1 776.6 483.7 776.7 485.4C776.7 487.1 776.8 488.8 776.9 490.4C776.9 492.1 777.0 493.8 777.0 495.4C777.1 497.1 777.1 498.8 777.2 500.4C777.2 502.1 777.3 503.8 777.4 505.4C777.4 507.1 777.5 508.8 777.5 510.4C777.6 512.1 777.6 513.8 777.7 515.4C777.7 517.1 777.8 518.8 777.9 520.4C777.9 522.1 778.0 523.8 778.0 525.4C778.1 527.1 778.1 528.8 778.2 530.4C778.2 532.1 778.3 533.8 778.4 535.4C778.4 537.1 778.5 538.8 778.5 540.4C778.6 542.1 778.6 543.8 778.7 545.4C778.7 547.1 778.8 548.8 778.9 550.4C778.9 552.1 779.0 553.8 779.0 555.4C779.1 557.1 779.1 558.8 779.2 560.4C779.2 562.1 779.3 563.8 779.3 565.4C779.4 567.1 779.5 568.8 779.5 570.4C779.6 572.1 779.6 573.8 779.7 575.4C779.7 577.1 779.8 578.8 779.8 580.4C779.9 582.1 779.9 583.8 780.0 585.4C780.1 587.1 780.1 588.8 780.2 590.4C780.2 592.1 780.3 593.8 780.3 595.5C780.4 597.1 780.4 598.8 780.5 600.5C780.6 602.1 780.6 603.8 780.7 605.5C780.7 607.1 780.8 608.8 780.8 610.5C780.9 612.1 780.9 613.8 781.0 615.5C781.0 617.1 781.1 618.8 781.2 620.5C781.2 622.1 781.3 623.8 781.3 625.5C781.4 627.1 781.4 628.8 781.5 630.5C781.5 632.1 781.6 633.8 781.7 635.5C781.7 637.1 781.8 638.8 781.8 640.5C781.9 642.1 781.9 643.8 782.0 645.5C782.0 647.1 782.1 648.8 782.2 650.5C782.2 652.1 782.3 653.8 782.3 655.5C782.4 657.1 782.4 658.8 782.5 660.5C782.5 662.1 782.6 663.8 782.7 665.5C782.7 667.1 782.8 668.8 782.8 670.5C782.9 672.1 782.9 673.8 783.0 675.5C783.1 677.1 783.1 678.8 783.2 680.5C783.2 682.1 783.3 683.8 783.3 685.5C783.4 687.1 783.4 688.8 783.5 690.5C783.6 692.1 783.6 693.8 783.7 695.5C783.7 697.1 783.8 698.8 783.8 700.5C783.9 702.1 784.0 703.8 784.0 705.5C784.1 707.2 784.1 708.8 784.2 710.5C784.3 712.2 784.3 713.8 784.4 715.5C784.4 717.2 784.5 718.8 784.5 720.5C784.6 722.2 784.7 723.8 784.7 725.5C784.8 727.2 784.8 728.8 784.9 730.5C785.0 732.2 785.0 733.8 785.1 735.5C785.1 737.2 785.2 738.8 785.2 740.5C785.3 742.2 785.4 743.8 785.4 745.5C785.5 747.2 785.5 748.8 785.6 750.5C785.7 752.2 785.7 753.8 785.8 755.5C785.8 757.2 785.9 758.8 786.0 760.5C786.0 762.2 786.1 763.8 786.1 765.5C786.2 767.2 786.3 768.8 786.3 770.5C786.4 772.2 786.5 773.8 786.5 775.5C786.6 777.2 786.6 778.8 786.7 780.5C786.8 782.2 786.8 783.8 786.9 785.5C786.9 787.2 787.0 788.8 787.1 790.5C787.1 792.2 787.2 793.8 787.3 795.5C787.3 797.2 787.4 798.8 787.4 800.5C787.5 802.2 787.6 803.8 787.6 805.5C787.7 807.2 787.8 808.8 787.8 810.5C787.9 812.2 788.0 813.9 788.0 815.5C788.1 817.2 788.1 818.9 788.2 820.5C788.3 822.2 788.3 823.9 788.4 825.5C788.5 827.2 788.5 828.9 788.6 830.5C788.7 832.2 788.7 833.9 788.8 835.5C788.9 837.2 788.9 838.9 789.0 840.5C789.1 842.2 789.1 843.9 789.2 845.5C789.3 847.2 789.3 848.9 789.4 850.5C789.5 852.2 789.5 853.9 789.6 855.5C789.7 857.2 789.7 858.9 789.8 860.5C789.9 862.2 789.9 863.9 790.0 865.5C790.1 867.2 790.1 868.9 790.2 870.5C790.3 872.2 790.3 873.9 790.4 875.5C790.5 877.2 790.6 878.9 790.6 880.5C790.7 882.2 790.8 883.9 790.8 885.5C790.9 887.2 791.0 888.9 791.0 890.5C791.1 892.2 791.2 893.9 791.3 895.5C791.3 897.2 791.4 898.9 791.5 900.5C791.5 902.2 791.6 903.9 791.7 905.6C791.8 907.2 791.8 908.9 791.9 910.6C792.0 912.2 792.1 913.9 792.1 915.6C792.2 917.2 792.3 918.9 792.3 920.6C792.4 922.2 792.5 923.9 792.6 925.6C792.6 927.2 792.7 928.9 792.8 930.6C792.9 932.2 792.9 933.9 793.0 935.6C793.1 937.2 793.2 938.9 793.2 940.6C793.3 942.2 793.4 943.9 793.5 945.6C793.6 947.2 793.6 948.9 793.7 950.6C793.8 952.2 793.9 953.9 793.9 955.6C794.0 957.2 794.1 958.9 794.2 960.6C794.3 962.2 794.3 963.9 794.4 965.6C794.5 967.2 794.6 968.9 794.7 970.6C794.8 972.2 794.8 973.9 794.9 975.6C795.0 977.2 795.1 978.9 795.2 980.6C795.3 982.2 795.3 983.9 795.4 985.6C795.5 987.2 795.6 988.9 795.7 990.6C795.8 992.2 795.9 993.9 796.0 995.6C796.0 997.2 796.1 998.9 796.2 1000.6C796.3 1002.2 796.4 1003.9 796.5 1005.6C796.6 1007.2 796.7 1008.9 796.8 1010.6C796.9 1012.2 797.0 1013.9 797.1 1015.6C797.2 1017.2 797.3 1018.9 797.4 1020.6C797.5 1022.2 797.6 1023.9 797.7 1025.6C797.8 1027.2 797.9 1028.9 798.0 1030.6C798.1 1032.2 798.2 1033.9 798.3 1035.6C798.4 1037.2 798.5 1038.9 798.7 1040.5C798.8 1042.2 798.9 1043.9 799.0 1045.5C799.1 1047.2 799.2 1048.9 799.3 1050.5C799.5 1052.2 799.6 1053.9 799.7 1055.5C799.8 1057.2 799.9 1058.9 800.1 1060.5C800.2 1062.2 800.3 1063.8 800.4 1065.5C800.6 1067.2 800.7 1068.8 800.8 1070.5C801.0 1072.2 801.1 1073.8 801.2 1075.5C801.4 1077.1 801.5 1078.8 801.6 1080.5C801.8 1082.1 801.9 1083.8 802.1 1085.5C802.2 1087.1 802.3 1088.8 802.5 1090.4C802.6 1092.1 802.8 1093.8 802.9 1095.4C803.1 1097.1 803.2 1098.7 803.4 1100.4C803.6 1102.1 803.7 1103.7 803.9 1105.4C804.0 1107.0 804.2 1108.7 804.3 1110.4C804.5 1112.0 804.7 1113.7 804.8 1115.3C805.0 1117.0 805.2 1118.6 805.4 1120.3C805.5 1122.0 805.7 1123.6 805.9 1125.3C806.1 1126.9 806.2 1128.6 806.4 1130.3C806.6 1131.9 806.8 1133.6 807.0 1135.2C807.2 1136.9 807.3 1138.5 807.5 1140.2C807.7 1141.8 807.9 1143.5 808.1 1145.2C808.3 1146.8 808.5 1148.5 808.7 1150.1C808.9 1151.8 809.1 1153.4 809.3 1155.1C809.5 1156.7 809.8 1158.4 810.0 1160.0C810.2 1161.7 810.4 1163.4 810.6 1165.0C810.8 1166.7 811.1 1168.3 811.3 1170.0C811.5 1171.6 811.7 1173.3 812.0 1174.9C812.2 1176.6 812.4 1178.2 812.7 1179.9C812.9 1181.5 813.1 1183.2 813.4 1184.8C813.6 1186.5 813.9 1188.1 814.1 1189.8C814.4 1191.4 814.6 1193.1 814.9 1194.7C815.1 1196.4 815.4 1198.0 815.6 1199.7C815.9 1201.3 816.2 1203.0 816.4 1204.6C816.7 1206.3 817.0 1207.9 817.3 1209.6C817.5 1211.2 817.8 1212.8 818.1 1214.5C818.4 1216.1 818.7 1217.8 819.0 1219.4C819.3 1221.1 819.6 1222.7 819.9 1224.3C820.2 1226.0 820.5 1227.6 820.9 1229.3C821.2 1230.9 821.5 1232.5 821.9 1234.2C822.2 1235.8 822.6 1237.4 822.9 1239.1C823.3 1240.7 823.6 1242.3 824.0 1243.9C824.4 1245.6 824.8 1247.2 825.2 1248.8C825.6 1250.4 826.0 1252.1 826.4 1253.7C826.8 1255.3 827.3 1256.9 827.7 1258.5C828.2 1260.1 828.6 1261.8 829.1 1263.4C829.6 1265.0 830.0 1266.6 830.5 1268.2C831.0 1269.8 831.5 1271.4 832.0 1273.0C832.5 1274.6 833.1 1276.2 833.6 1277.7C834.1 1279.3 834.6 1280.9 835.2 1282.5C835.7 1284.1 836.3 1285.7 836.8 1287.2C837.4 1288.8 837.9 1290.4 838.5 1291.9C839.1 1293.5 839.6 1295.1 840.2 1296.6C840.8 1298.2 841.4 1299.7 842.0 1301.3C842.6 1302.8 843.3 1304.3 843.9 1305.9C844.6 1307.4 845.2 1308.9 845.9 1310.4C846.6 1311.9 847.3 1313.4 848.1 1314.9C848.8 1316.4 849.6 1317.8 850.4 1319.3C851.2 1320.7 852.0 1322.2 852.8 1323.6C853.7 1325.0 854.6 1326.4 855.5 1327.8C856.5 1329.2 857.4 1330.6 858.4 1332.0C859.4 1333.3 860.5 1334.7 861.6 1336.0C862.7 1337.3 863.8 1338.6 865.0 1339.8C866.2 1341.1 867.4 1342.3 868.6 1343.4C869.9 1344.6 871.2 1345.7 872.5 1346.7C873.9 1347.7 875.3 1348.6 876.7 1349.5C878.1 1350.3 879.5 1351.1 881.0 1351.8C882.5 1352.5 884.0 1353.1 885.6 1353.7C887.1 1354.3 888.7 1354.8 890.3 1355.2C891.9 1355.7 893.5 1356.1 895.1 1356.4C896.7 1356.8 898.4 1357.1 900.0 1357.4C901.7 1357.6 903.4 1357.9 905.0 1358.1C906.7 1358.3 908.4 1358.4 910.0 1358.6C911.7 1358.7 913.4 1358.9 915.0 1359.0C916.7 1359.1 918.4 1359.2 920.0 1359.2C921.7 1359.3 923.4 1359.4 925.0 1359.4C926.7 1359.5 928.4 1359.5 930.0 1359.5C931.7 1359.5 933.4 1359.5 935.0 1359.5C936.7 1359.5 938.3 1359.5 940.0 1359.5C941.7 1359.4 943.3 1359.4 945.0 1359.3C946.7 1359.3 948.4 1359.3 950.0 1359.2C951.7 1359.2 953.4 1359.1 955.0 1359.0C956.7 1359.0 958.4 1358.9 960.1 1358.8C961.7 1358.8 963.4 1358.7 965.1 1358.6C966.7 1358.5 968.4 1358.4 970.1 1358.3C971.8 1358.2 973.4 1358.1 975.1 1358.0C976.8 1357.9 978.4 1357.7 980.1 1357.6C981.8 1357.4 983.4 1357.3 985.1 1357.1C986.8 1356.9 988.4 1356.8 990.1 1356.6C991.7 1356.4 993.4 1356.2 995.1 1355.9C996.7 1355.7 998.4 1355.5 1000.0 1355.2C1001.6 1354.9 1003.3 1354.7 1004.9 1354.4C1006.6 1354.1 1008.2 1353.8 1009.8 1353.4C1011.5 1353.1 1013.1 1352.8 1014.7 1352.4C1016.3 1352.0 1017.9 1351.6 1019.5 1351.2C1021.1 1350.8 1022.7 1350.4 1024.3 1349.9C1025.9 1349.5 1027.5 1349.0 1029.1 1348.5C1030.7 1348.0 1032.3 1347.4 1033.8 1346.9C1035.4 1346.3 1037.0 1345.7 1038.5 1345.1C1040.1 1344.5 1041.6 1343.9 1043.2 1343.2C1044.7 1342.6 1046.2 1341.9 1047.8 1341.2C1049.3 1340.5 1050.8 1339.8 1052.3 1339.1C1053.8 1338.4 1055.3 1337.6 1056.8 1336.8C1058.3 1336.1 1059.8 1335.3 1061.3 1334.5C1062.8 1333.7 1064.3 1332.9 1065.7 1332.1C1067.2 1331.3 1068.7 1330.5 1070.1 1329.6C1071.6 1328.8 1073.1 1328.0 1074.5 1327.1C1075.9 1326.3 1077.4 1325.4 1078.8 1324.6C1080.3 1323.7 1081.7 1322.9 1083.1 1322.0C1084.5 1321.2 1086.0 1320.3 1087.4 1319.5C1088.8 1318.7 1090.3 1317.9 1091.7 1317.1C1093.2 1316.4 1094.7 1315.7 1096.2 1315.0C1097.7 1314.3 1099.2 1313.7 1100.8 1313.1C1102.4 1312.6 1104.0 1312.1 1105.6 1311.6C1107.2 1311.2 1108.8 1310.8 1110.5 1310.5C1112.2 1310.1 1113.8 1309.9 1115.5 1309.7C1117.2 1309.5 1118.9 1309.4 1120.6 1309.3C1122.3 1309.2 1124.0 1309.2 1125.7 1309.3C1127.4 1309.4 1129.1 1309.5 1130.8 1309.7C1132.4 1309.9 1134.1 1310.1 1135.7 1310.5C1137.4 1310.8 1139.0 1311.2 1140.6 1311.6C1142.2 1312.1 1143.8 1312.6 1145.3 1313.2C1146.8 1313.8 1148.3 1314.4 1149.8 1315.1C1151.3 1315.8 1152.8 1316.5 1154.2 1317.3C1155.7 1318.1 1157.1 1319.0 1158.5 1319.8C1159.9 1320.7 1161.3 1321.6 1162.7 1322.6C1164.1 1323.5 1165.4 1324.5 1166.8 1325.5C1168.2 1326.5 1169.5 1327.5 1170.8 1328.5C1172.2 1329.6 1173.5 1330.6 1174.8 1331.7C1176.1 1332.8 1177.4 1333.8 1178.7 1334.9C1180.1 1336.0 1181.4 1337.1 1182.7 1338.1C1184.0 1339.2 1185.3 1340.3 1186.6 1341.3C1187.9 1342.4 1189.2 1343.4 1190.5 1344.4C1191.9 1345.4 1193.2 1346.4 1194.6 1347.3C1196.0 1348.2 1197.4 1349.1 1198.8 1349.8C1200.3 1350.6 1201.8 1351.3 1203.3 1352.0C1204.8 1352.6 1206.3 1353.2 1207.9 1353.7C1209.5 1354.3 1211.1 1354.7 1212.7 1355.1C1214.3 1355.6 1215.9 1355.9 1217.6 1356.3C1219.2 1356.6 1220.9 1356.9 1222.5 1357.1C1224.2 1357.4 1225.9 1357.6 1227.6 1357.8C1229.3 1358.0 1231.0 1358.2 1232.6 1358.3C1234.3 1358.5 1236.0 1358.6 1237.7 1358.7C1239.4 1358.9 1241.1 1359.0 1242.7 1359.1C1244.4 1359.1 1246.1 1359.2 1247.7 1359.2C1249.4 1359.3 1251.1 1359.3 1252.7 1359.3C1254.4 1359.3 1256.0 1359.3 1257.7 1359.3C1259.4 1359.2 1261.0 1359.2 1262.7 1359.1C1264.3 1359.0 1266.0 1358.9 1267.6 1358.7C1269.3 1358.6 1270.9 1358.4 1272.6 1358.2C1274.2 1358.0 1275.9 1357.8 1277.5 1357.5C1279.2 1357.3 1280.8 1357.0 1282.5 1356.7C1284.1 1356.4 1285.8 1356.1 1287.4 1355.8C1289.1 1355.5 1290.7 1355.2 1292.3 1354.8C1294.0 1354.5 1295.6 1354.2 1297.3 1353.8C1298.9 1353.5 1300.5 1353.2 1302.2 1352.8C1303.8 1352.5 1305.5 1352.2 1307.1 1351.8C1308.7 1351.5 1310.4 1351.1 1312.0 1350.8C1313.6 1350.4 1315.2 1350.1 1316.9 1349.7C1318.5 1349.4 1320.1 1349.0 1321.7 1348.6C1323.3 1348.2 1324.9 1347.8 1326.6 1347.4C1328.2 1346.9 1329.8 1346.5 1331.4 1346.0C1333.0 1345.5 1334.6 1345.0 1336.2 1344.5C1337.7 1344.0 1339.3 1343.4 1340.9 1342.9C1342.5 1342.3 1344.0 1341.7 1345.6 1341.1C1347.2 1340.5 1348.7 1339.9 1350.3 1339.2C1351.8 1338.6 1353.3 1337.9 1354.9 1337.2C1356.4 1336.5 1357.9 1335.8 1359.4 1335.0C1360.9 1334.3 1362.4 1333.5 1363.9 1332.8C1365.3 1332.0 1366.8 1331.2 1368.3 1330.4C1369.7 1329.6 1371.2 1328.7 1372.6 1327.9C1374.1 1327.1 1375.5 1326.2 1376.9 1325.3C1378.4 1324.5 1379.8 1323.6 1381.2 1322.8C1382.6 1321.9 1384.0 1321.0 1385.5 1320.1C1386.9 1319.2 1388.3 1318.4 1389.7 1317.5C1391.1 1316.6 1392.5 1315.7 1394.0 1314.8C1395.4 1313.9 1396.8 1313.1 1398.2 1312.2C1399.7 1311.3 1401.1 1310.5 1402.5 1309.6C1403.9 1308.8 1405.4 1307.9 1406.8 1307.1C1408.3 1306.3 1409.7 1305.5 1411.2 1304.7C1412.7 1303.9 1414.1 1303.1 1415.6 1302.3C1417.1 1301.5 1418.6 1300.8 1420.1 1300.1C1421.6 1299.3 1423.1 1298.6 1424.6 1298.0C1426.2 1297.3 1427.7 1296.6 1429.3 1296.0C1430.8 1295.4 1432.4 1294.8 1434.0 1294.3C1435.6 1293.7 1437.2 1293.2 1438.8 1292.9C1440.4 1292.6 1442.1 1292.3 1443.7 1292.3C1445.3 1292.2 1447.0 1292.3 1448.6 1292.6C1450.2 1292.8 1451.9 1293.3 1453.5 1293.8C1455.1 1294.3 1456.8 1294.9 1458.4 1295.6C1459.9 1296.3 1461.5 1297.0 1463.1 1297.8C1464.6 1298.6 1466.1 1299.4 1467.6 1300.2C1469.1 1301.0 1470.5 1301.8 1472.0 1302.7C1473.4 1303.5 1474.8 1304.4 1476.2 1305.2C1477.6 1306.1 1479.0 1307.0 1480.4 1307.9C1481.8 1308.8 1483.1 1309.8 1484.5 1310.7C1485.8 1311.6 1487.2 1312.6 1488.5 1313.5C1489.9 1314.5 1491.3 1315.4 1492.6 1316.4C1494.0 1317.4 1495.3 1318.4 1496.7 1319.3C1498.0 1320.3 1499.4 1321.3 1500.7 1322.3C1502.1 1323.3 1503.5 1324.2 1504.8 1325.2C1506.2 1326.2 1507.6 1327.1 1509.0 1328.1C1510.3 1329.1 1511.7 1330.0 1513.1 1330.9C1514.5 1331.9 1515.9 1332.8 1517.3 1333.7C1518.7 1334.6 1520.1 1335.5 1521.6 1336.4C1523.0 1337.3 1524.4 1338.1 1525.9 1338.9C1527.3 1339.8 1528.8 1340.6 1530.2 1341.4C1531.7 1342.1 1533.2 1342.9 1534.7 1343.6C1536.2 1344.3 1537.7 1345.0 1539.2 1345.7C1540.7 1346.3 1542.3 1346.9 1543.8 1347.5C1545.4 1348.1 1547.0 1348.6 1548.5 1349.2C1550.1 1349.7 1551.7 1350.1 1553.3 1350.6C1554.9 1351.1 1556.6 1351.5 1558.2 1351.9C1559.8 1352.3 1561.4 1352.7 1563.1 1353.1C1564.7 1353.5 1566.3 1353.9 1568.0 1354.2C1569.6 1354.6 1571.2 1355.0 1572.9 1355.3C1574.5 1355.7 1576.1 1356.0 1577.8 1356.4C1579.4 1356.7 1581.0 1357.1 1582.7 1357.4C1584.3 1357.7 1586.0 1358.0 1587.6 1358.3C1589.2 1358.6 1590.9 1358.9 1592.5 1359.1C1594.2 1359.4 1595.8 1359.7 1597.4 1359.9C1599.1 1360.2 1600.7 1360.4 1602.4 1360.6C1604.0 1360.8 1605.7 1361.0 1607.3 1361.2C1609.0 1361.3 1610.6 1361.5 1612.3 1361.6C1613.9 1361.8 1615.6 1361.9 1617.3 1362.0C1618.9 1362.1 1620.6 1362.1 1622.2 1362.2C1623.9 1362.2 1625.6 1362.2 1627.3 1362.2C1628.9 1362.2 1630.6 1362.2 1632.3 1362.2C1634.0 1362.1 1635.7 1362.0 1637.3 1361.9C1639.0 1361.8 1640.7 1361.7 1642.4 1361.5C1644.1 1361.3 1645.8 1361.2 1647.5 1360.9C1649.2 1360.7 1650.8 1360.4 1652.5 1360.0C1654.1 1359.7 1655.8 1359.3 1657.4 1358.8C1659.0 1358.4 1660.6 1357.9 1662.1 1357.3C1663.6 1356.7 1665.1 1356.0 1666.6 1355.3C1668.1 1354.6 1669.5 1353.8 1670.9 1352.9C1672.3 1352.0 1673.6 1351.1 1674.9 1350.1C1676.2 1349.1 1677.5 1348.0 1678.7 1346.9C1680.0 1345.8 1681.2 1344.6 1682.3 1343.5C1683.5 1342.3 1684.7 1341.0 1685.8 1339.8C1686.9 1338.5 1688.0 1337.2 1689.1 1335.9C1690.1 1334.5 1691.2 1333.2 1692.2 1331.8C1693.2 1330.5 1694.2 1329.1 1695.2 1327.7C1696.2 1326.3 1697.2 1324.9 1698.1 1323.5C1699.1 1322.1 1700.0 1320.7 1700.9 1319.3C1701.9 1317.9 1702.8 1316.5 1703.7 1315.1C1704.6 1313.7 1705.4 1312.3 1706.3 1310.9C1707.2 1309.5 1708.0 1308.1 1708.9 1306.6C1709.7 1305.2 1710.6 1303.8 1711.4 1302.4C1712.2 1300.9 1713.0 1299.5 1713.8 1298.0C1714.7 1296.6 1715.5 1295.1 1716.2 1293.7C1717.0 1292.2 1717.8 1290.8 1718.6 1289.3C1719.4 1287.8 1720.1 1286.4 1720.9 1284.9C1721.7 1283.4 1722.4 1281.9 1723.2 1280.5C1723.9 1279.0 1724.7 1277.5 1725.4 1276.0C1726.1 1274.5 1726.9 1273.0 1727.6 1271.5C1728.3 1270.0 1729.0 1268.5 1729.7 1267.0C1730.5 1265.5 1731.2 1264.0 1731.9 1262.5C1732.6 1260.9 1733.3 1259.4 1733.9 1257.9C1734.6 1256.4 1735.3 1254.9 1736.0 1253.3C1736.7 1251.8 1737.3 1250.3 1738.0 1248.7C1738.7 1247.2 1739.3 1245.7 1740.0 1244.1C1740.7 1242.6 1741.3 1241.0 1742.0 1239.5C1742.6 1238.0 1743.3 1236.4 1743.9 1234.9C1744.6 1233.3 1745.2 1231.8 1745.9 1230.2C1746.5 1228.7 1747.1 1227.1 1747.8 1225.6C1748.4 1224.0 1749.0 1222.4 1749.7 1220.9C1750.3 1219.3 1750.9 1217.8 1751.6 1216.2C1752.2 1214.7 1752.9 1213.1 1753.6 1211.6C1754.2 1210.1 1754.9 1208.5 1755.6 1207.0C1756.3 1205.5 1757.1 1204.0 1757.8 1202.6C1758.6 1201.1 1759.4 1199.6 1760.2 1198.2C1761.1 1196.7 1761.9 1195.3 1762.8 1193.9C1763.7 1192.5 1764.7 1191.1 1765.7 1189.8C1766.7 1188.5 1767.7 1187.1 1768.8 1185.9C1769.9 1184.6 1771.0 1183.2 1772.2 1182.2C1773.5 1181.2 1774.8 1180.1 1776.2 1179.8C1777.6 1179.5 1779.3 1179.7 1780.8 1180.2C1782.3 1180.8 1784.0 1181.9 1785.5 1183.0C1786.9 1184.0 1788.2 1185.4 1789.4 1186.7C1790.5 1188.0 1791.5 1189.4 1792.4 1190.9C1793.4 1192.3 1794.2 1193.8 1795.0 1195.3C1795.8 1196.8 1796.5 1198.3 1797.3 1199.8C1798.1 1201.2 1798.8 1202.7 1799.6 1204.1C1800.3 1205.6 1801.1 1207.0 1801.9 1208.5C1802.6 1209.9 1803.4 1211.3 1804.1 1212.8C1804.9 1214.2 1805.6 1215.7 1806.4 1217.1C1807.1 1218.6 1807.9 1220.1 1808.6 1221.5C1809.3 1223.0 1810.1 1224.5 1810.8 1226.0C1811.5 1227.5 1812.3 1229.0 1813.0 1230.5C1813.7 1232.0 1814.4 1233.5 1815.2 1235.0C1815.9 1236.5 1816.6 1238.0 1817.4 1239.5C1818.1 1241.0 1818.8 1242.5 1819.5 1244.1C1820.3 1245.6 1821.0 1247.1 1821.7 1248.6C1822.5 1250.1 1823.2 1251.6 1824.0 1253.2C1824.7 1254.7 1825.4 1256.2 1826.2 1257.7C1826.9 1259.2 1827.7 1260.7 1828.5 1262.2C1829.2 1263.8 1830.0 1265.3 1830.8 1266.8C1831.5 1268.3 1832.3 1269.8 1833.1 1271.3C1833.9 1272.8 1834.7 1274.2 1835.5 1275.7C1836.3 1277.2 1837.1 1278.7 1837.9 1280.2C1838.7 1281.6 1839.6 1283.1 1840.4 1284.5C1841.2 1286.0 1842.1 1287.4 1842.9 1288.9C1843.8 1290.3 1844.7 1291.7 1845.6 1293.2C1846.5 1294.6 1847.4 1296.0 1848.3 1297.4C1849.2 1298.8 1850.1 1300.2 1851.0 1301.5C1852.0 1302.9 1852.9 1304.3 1853.9 1305.6C1854.9 1307.0 1855.8 1308.3 1856.8 1309.6C1857.8 1310.9 1858.9 1312.2 1859.9 1313.5C1860.9 1314.8 1862.0 1316.1 1863.0 1317.3C1864.1 1318.6 1865.2 1319.8 1866.3 1321.1C1867.4 1322.3 1868.5 1323.5 1869.7 1324.7C1870.8 1325.9 1872.0 1327.0 1873.1 1328.2C1874.3 1329.3 1875.5 1330.5 1876.8 1331.6C1878.0 1332.7 1879.2 1333.8 1880.5 1334.8C1881.8 1335.9 1883.1 1336.9 1884.4 1337.9C1885.7 1339.0 1887.0 1340.0 1888.4 1340.9C1889.8 1341.9 1891.2 1342.9 1892.6 1343.8C1894.0 1344.7 1895.4 1345.6 1896.9 1346.5C1898.3 1347.3 1899.8 1348.2 1901.3 1349.0C1902.8 1349.8 1904.3 1350.5 1905.9 1351.2C1907.4 1351.9 1908.9 1352.6 1910.5 1353.2C1912.1 1353.9 1913.6 1354.5 1915.2 1355.0C1916.8 1355.5 1918.4 1356.0 1920.0 1356.4C1921.6 1356.8 1923.2 1357.2 1924.8 1357.5C1926.5 1357.9 1928.1 1358.2 1929.7 1358.5C1931.4 1358.7 1933.0 1359.0 1934.6 1359.2C1936.3 1359.5 1937.9 1359.7 1939.6 1360.0C1941.2 1360.2 1942.9 1360.4 1944.5 1360.7C1946.2 1360.9 1947.9 1361.1 1949.5 1361.3C1951.2 1361.5 1952.8 1361.7 1954.5 1361.8C1956.2 1362.0 1957.8 1362.2 1959.5 1362.3C1961.2 1362.5 1962.8 1362.6 1964.5 1362.8C1966.2 1362.9 1967.8 1363.0 1969.5 1363.1C1971.2 1363.2 1972.8 1363.3 1974.5 1363.4C1976.2 1363.4 1977.8 1363.5 1979.5 1363.5C1981.2 1363.6 1982.8 1363.6 1984.5 1363.6C1986.2 1363.6 1988.7 1363.6 1989.5 1363.6"/>
<path class="c" stroke="#4cc8ff" d="M299.5 1372.0C300.1 1369.7 301.8 1361.2 303.0 1358.0C304.2 1354.8 306.3 1353.4 307.0 1352.5L307.0 1352.5C307.8 1352.5 310.3 1352.3 312.0 1352.3C313.7 1352.2 315.3 1352.1 317.0 1352.0C318.7 1351.9 320.3 1351.8 322.0 1351.7C323.7 1351.7 325.3 1351.6 327.0 1351.5C328.7 1351.4 330.3 1351.3 332.0 1351.2C333.7 1351.1 335.3 1351.0 337.0 1350.9C338.7 1350.8 340.3 1350.7 342.0 1350.6C343.7 1350.5 345.3 1350.4 347.0 1350.3C348.7 1350.2 350.3 1350.1 352.0 1350.0C353.7 1349.9 355.3 1349.7 357.0 1349.6C358.7 1349.5 360.3 1349.4 362.0 1349.3C363.7 1349.1 365.3 1349.0 367.0 1348.9C368.7 1348.8 370.3 1348.6 372.0 1348.5C373.7 1348.4 375.3 1348.2 377.0 1348.1C378.6 1347.9 380.3 1347.8 382.0 1347.6C383.6 1347.5 385.3 1347.3 387.0 1347.2C388.6 1347.0 390.3 1346.9 392.0 1346.7C393.6 1346.5 395.3 1346.4 396.9 1346.2C398.6 1346.0 400.3 1345.9 401.9 1345.7C403.6 1345.5 405.3 1345.4 406.9 1345.2C408.6 1345.0 410.2 1344.8 411.9 1344.7C413.6 1344.5 415.2 1344.3 416.9 1344.2C418.6 1344.0 420.2 1343.8 421.9 1343.6C423.5 1343.5 425.2 1343.3 426.9 1343.1C428.5 1343.0 430.2 1342.8 431.9 1342.6C433.5 1342.4 435.2 1342.3 436.8 1342.1C438.5 1342.0 440.2 1341.8 441.8 1341.6C443.5 1341.5 445.2 1341.3 446.8 1341.2C448.5 1341.0 450.2 1340.9 451.8 1340.7C453.5 1340.6 455.1 1340.4 456.8 1340.3C458.5 1340.1 460.1 1340.0 461.8 1339.9C463.5 1339.7 465.1 1339.6 466.8 1339.5C468.5 1339.4 470.1 1339.2 471.8 1339.1C473.5 1339.0 475.1 1338.9 476.8 1338.8C478.5 1338.7 480.1 1338.6 481.8 1338.5C483.5 1338.4 485.1 1338.3 486.8 1338.3C488.5 1338.2 490.1 1338.1 491.8 1338.0C493.5 1338.0 495.1 1337.9 496.8 1337.9C498.5 1337.8 500.1 1337.8 501.8 1337.7C503.5 1337.7 505.1 1337.6 506.8 1337.6C508.5 1337.6 510.1 1337.5 511.8 1337.5C513.5 1337.5 515.1 1337.5 516.8 1337.5C518.5 1337.5 520.2 1337.5 521.8 1337.5C523.5 1337.5 525.2 1337.5 526.8 1337.6C528.5 1337.6 530.2 1337.6 531.8 1337.6C533.5 1337.7 535.2 1337.7 536.8 1337.7C538.5 1337.8 540.2 1337.8 541.9 1337.9C543.5 1337.9 545.2 1338.0 546.9 1338.0C548.5 1338.1 550.2 1338.1 551.9 1338.2C553.5 1338.2 555.2 1338.3 556.9 1338.4C558.5 1338.4 560.2 1338.5 561.9 1338.6C563.6 1338.6 565.2 1338.7 566.9 1338.8C568.6 1338.9 570.2 1338.9 571.9 1339.0C573.6 1339.1 575.2 1339.2 576.9 1339.3C578.6 1339.4 580.2 1339.4 581.9 1339.5C583.6 1339.6 585.2 1339.7 586.9 1339.8C588.6 1339.9 590.3 1340.0 591.9 1340.1C593.6 1340.2 595.3 1340.3 596.9 1340.3C598.6 1340.4 600.3 1340.5 601.9 1340.6C603.6 1340.7 605.3 1340.8 606.9 1340.9C608.6 1341.0 610.3 1341.1 611.9 1341.2C613.6 1341.3 615.3 1341.4 616.9 1341.5C618.6 1341.6 620.3 1341.7 621.9 1341.8C623.6 1341.9 625.3 1342.0 627.0 1342.1C628.6 1342.2 630.3 1342.3 632.0 1342.4C633.6 1342.5 635.3 1342.6 637.0 1342.7C638.6 1342.8 640.3 1342.9 642.0 1343.0C643.6 1343.1 645.3 1343.2 647.0 1343.3C648.6 1343.3 650.3 1343.4 652.0 1343.5C653.6 1343.6 655.3 1343.7 657.0 1343.8C658.6 1343.9 660.3 1344.0 662.0 1344.1C663.6 1344.2 665.3 1344.2 667.0 1344.3C668.6 1344.4 670.3 1344.5 672.0 1344.6C673.7 1344.7 675.3 1344.8 677.0 1344.9C678.7 1345.0 680.3 1345.0 682.0 1345.1C683.7 1345.2 685.3 1345.3 687.0 1345.4C688.7 1345.5 690.3 1345.6 692.0 1345.7C693.7 1345.7 695.3 1345.8 697.0 1345.9C698.7 1346.0 700.3 1346.1 702.0 1346.2C703.7 1346.3 705.3 1346.4 707.0 1346.5C708.7 1346.6 710.3 1346.7 712.0 1346.7C713.7 1346.8 715.3 1346.9 717.0 1347.0C718.7 1347.1 720.3 1347.2 722.0 1347.3C723.7 1347.4 725.3 1347.5 727.0 1347.6C728.7 1347.7 730.3 1347.8 732.0 1347.9C733.7 1348.0 735.3 1348.1 737.0 1348.2C738.7 1348.3 740.3 1348.4 742.0 1348.5C743.7 1348.6 745.3 1348.8 747.0 1348.9C748.7 1349.0 750.3 1349.1 752.0 1349.2C753.7 1349.3 755.3 1349.4 757.0 1349.5C758.7 1349.7 760.3 1349.8 762.0 1349.9C763.7 1350.0 765.3 1350.1 767.0 1350.3C768.7 1350.4 770.3 1350.5 772.0 1350.6C773.7 1350.7 775.3 1350.9 777.0 1351.0C778.7 1351.1 780.3 1351.2 782.0 1351.4C783.7 1351.5 785.3 1351.6 787.0 1351.7C788.7 1351.8 790.3 1352.0 792.0 1352.1C793.7 1352.2 795.3 1352.3 797.0 1352.4C798.7 1352.6 800.3 1352.7 802.0 1352.8C803.7 1352.9 805.3 1353.0 807.0 1353.1C808.7 1353.2 810.3 1353.3 812.0 1353.4C813.7 1353.5 815.3 1353.6 817.0 1353.7C818.7 1353.8 820.3 1353.9 822.0 1354.0C823.7 1354.1 825.3 1354.2 827.0 1354.3C828.7 1354.4 830.4 1354.5 832.0 1354.5C833.7 1354.6 835.4 1354.7 837.0 1354.8C838.7 1354.9 840.4 1354.9 842.0 1355.0C843.7 1355.1 845.4 1355.2 847.0 1355.2C848.7 1355.3 850.4 1355.4 852.0 1355.4C853.7 1355.5 855.4 1355.5 857.1 1355.6C858.7 1355.7 860.4 1355.7 862.1 1355.8C863.7 1355.8 865.4 1355.9 867.1 1355.9C868.7 1356.0 870.4 1356.0 872.1 1356.1C873.7 1356.1 875.4 1356.2 877.1 1356.2C878.8 1356.3 880.4 1356.3 882.1 1356.3C883.8 1356.4 885.4 1356.4 887.1 1356.5C888.8 1356.5 890.4 1356.5 892.1 1356.6C893.8 1356.6 895.4 1356.6 897.1 1356.7C898.8 1356.7 900.5 1356.7 902.1 1356.8C903.8 1356.8 905.5 1356.8 907.1 1356.8C908.8 1356.9 910.5 1356.9 912.1 1356.9C913.8 1356.9 915.5 1357.0 917.2 1357.0C918.8 1357.0 920.5 1357.0 922.2 1357.1C923.8 1357.1 925.5 1357.1 927.2 1357.1C928.8 1357.1 930.5 1357.2 932.2 1357.2C933.9 1357.2 935.5 1357.2 937.2 1357.2C938.9 1357.3 940.5 1357.3 942.2 1357.3C943.9 1357.3 945.6 1357.3 947.2 1357.3C948.9 1357.4 950.6 1357.4 952.2 1357.4C953.9 1357.4 955.6 1357.4 957.2 1357.4C958.9 1357.4 960.6 1357.5 962.3 1357.5C963.9 1357.5 965.6 1357.5 967.3 1357.5C968.9 1357.5 970.6 1357.5 972.3 1357.6C973.9 1357.6 975.6 1357.6 977.3 1357.6C979.0 1357.6 980.6 1357.6 982.3 1357.6C984.0 1357.7 985.6 1357.7 987.3 1357.7C989.0 1357.7 990.7 1357.7 992.3 1357.7C994.0 1357.7 995.7 1357.7 997.3 1357.8C999.0 1357.8 1000.7 1357.8 1002.3 1357.8C1004.0 1357.8 1005.7 1357.8 1007.4 1357.8C1009.0 1357.8 1010.7 1357.8 1012.4 1357.8C1014.0 1357.9 1015.7 1357.9 1017.4 1357.9C1019.0 1357.9 1020.7 1357.9 1022.4 1357.9C1024.1 1357.9 1025.7 1357.9 1027.4 1357.9C1029.1 1357.9 1030.7 1357.9 1032.4 1358.0C1034.1 1358.0 1035.7 1358.0 1037.4 1358.0C1039.1 1358.0 1040.8 1358.0 1042.4 1358.0C1044.1 1358.0 1045.8 1358.0 1047.4 1358.0C1049.1 1358.0 1050.8 1358.0 1052.5 1358.1C1054.1 1358.1 1055.8 1358.1 1057.5 1358.1C1059.1 1358.1 1060.8 1358.1 1062.5 1358.1C1064.1 1358.1 1065.8 1358.1 1067.5 1358.1C1069.2 1358.1 1070.8 1358.1 1072.5 1358.1C1074.2 1358.1 1075.8 1358.1 1077.5 1358.1C1079.2 1358.1 1080.8 1358.2 1082.5 1358.2C1084.2 1358.2 1085.9 1358.2 1087.5 1358.2C1089.2 1358.2 1090.9 1358.2 1092.5 1358.2C1094.2 1358.2 1095.9 1358.2 1097.6 1358.2C1099.2 1358.2 1100.9 1358.2 1102.6 1358.2C1104.2 1358.2 1105.9 1358.2 1107.6 1358.2C1109.2 1358.2 1110.9 1358.2 1112.6 1358.2C1114.3 1358.2 1115.9 1358.2 1117.6 1358.2C1119.3 1358.2 1120.9 1358.2 1122.6 1358.2C1124.3 1358.2 1125.9 1358.3 1127.6 1358.3C1129.3 1358.3 1131.0 1358.3 1132.6 1358.3C1134.3 1358.3 1136.0 1358.3 1137.6 1358.3C1139.3 1358.3 1141.0 1358.3 1142.6 1358.3C1144.3 1358.3 1146.0 1358.3 1147.7 1358.3C1149.3 1358.3 1151.0 1358.3 1152.7 1358.3C1154.3 1358.3 1156.0 1358.3 1157.7 1358.3C1159.4 1358.3 1161.0 1358.3 1162.7 1358.3C1164.4 1358.3 1166.0 1358.3 1167.7 1358.3C1169.4 1358.3 1171.0 1358.3 1172.7 1358.3C1174.4 1358.3 1176.1 1358.3 1177.7 1358.3C1179.4 1358.3 1181.1 1358.3 1182.7 1358.3C1184.4 1358.3 1186.1 1358.3 1187.7 1358.3C1189.4 1358.3 1191.1 1358.3 1192.8 1358.3C1194.4 1358.3 1196.1 1358.3 1197.8 1358.3C1199.4 1358.3 1201.1 1358.3 1202.8 1358.3C1204.5 1358.3 1206.1 1358.3 1207.8 1358.3C1209.5 1358.3 1211.1 1358.3 1212.8 1358.3C1214.5 1358.3 1216.1 1358.3 1217.8 1358.3C1219.5 1358.3 1221.2 1358.3 1222.8 1358.3C1224.5 1358.3 1226.2 1358.3 1227.8 1358.3C1229.5 1358.3 1231.2 1358.3 1232.8 1358.3C1234.5 1358.3 1236.2 1358.3 1237.9 1358.3C1239.5 1358.3 1241.2 1358.3 1242.9 1358.3C1244.5 1358.3 1246.2 1358.3 1247.9 1358.3C1249.5 1358.3 1251.2 1358.3 1252.9 1358.3C1254.6 1358.3 1256.2 1358.3 1257.9 1358.3C1259.6 1358.3 1261.2 1358.2 1262.9 1358.2C1264.6 1358.2 1266.3 1358.2 1267.9 1358.2C1269.6 1358.2 1271.3 1358.2 1272.9 1358.2C1274.6 1358.2 1276.3 1358.2 1277.9 1358.2C1279.6 1358.2 1281.3 1358.2 1283.0 1358.2C1284.6 1358.2 1286.3 1358.2 1288.0 1358.2C1289.6 1358.2 1291.3 1358.2 1293.0 1358.2C1294.6 1358.2 1296.3 1358.2 1298.0 1358.2C1299.7 1358.2 1301.3 1358.2 1303.0 1358.2C1304.7 1358.2 1306.3 1358.2 1308.0 1358.2C1309.7 1358.2 1311.4 1358.2 1313.0 1358.2C1314.7 1358.2 1316.4 1358.2 1318.0 1358.2C1319.7 1358.2 1321.4 1358.2 1323.0 1358.2C1324.7 1358.2 1326.4 1358.2 1328.1 1358.2C1329.7 1358.2 1331.4 1358.2 1333.1 1358.2C1334.7 1358.2 1336.4 1358.2 1338.1 1358.2C1339.7 1358.2 1341.4 1358.2 1343.1 1358.2C1344.8 1358.2 1346.4 1358.2 1348.1 1358.2C1349.8 1358.2 1351.4 1358.2 1353.1 1358.2C1354.8 1358.2 1356.5 1358.2 1358.1 1358.1C1359.8 1358.1 1361.5 1358.1 1363.1 1358.1C1364.8 1358.1 1366.5 1358.1 1368.1 1358.1C1369.8 1358.1 1371.5 1358.1 1373.2 1358.1C1374.8 1358.1 1376.5 1358.1 1378.2 1358.1C1379.8 1358.1 1381.5 1358.1 1383.2 1358.1C1384.8 1358.1 1386.5 1358.1 1388.2 1358.1C1389.9 1358.1 1391.5 1358.1 1393.2 1358.1C1394.9 1358.1 1396.5 1358.1 1398.2 1358.1C1399.9 1358.1 1401.5 1358.1 1403.2 1358.1C1404.9 1358.1 1406.6 1358.1 1408.2 1358.1C1409.9 1358.1 1411.6 1358.1 1413.2 1358.1C1414.9 1358.1 1416.6 1358.1 1418.3 1358.1C1419.9 1358.1 1421.6 1358.1 1423.3 1358.1C1424.9 1358.1 1426.6 1358.1 1428.3 1358.1C1429.9 1358.1 1431.6 1358.1 1433.3 1358.1C1435.0 1358.1 1436.6 1358.1 1438.3 1358.1C1440.0 1358.1 1441.6 1358.1 1443.3 1358.1C1445.0 1358.1 1446.6 1358.1 1448.3 1358.1C1450.0 1358.1 1451.7 1358.1 1453.3 1358.1C1455.0 1358.1 1456.7 1358.1 1458.3 1358.1C1460.0 1358.1 1461.7 1358.1 1463.4 1358.1C1465.0 1358.1 1466.7 1358.1 1468.4 1358.2C1470.0 1358.2 1471.7 1358.2 1473.4 1358.2C1475.0 1358.2 1476.7 1358.2 1478.4 1358.2C1480.1 1358.2 1481.7 1358.2 1483.4 1358.2C1485.1 1358.2 1486.7 1358.2 1488.4 1358.2C1490.1 1358.2 1491.7 1358.2 1493.4 1358.2C1495.1 1358.2 1496.8 1358.2 1498.4 1358.2C1500.1 1358.2 1501.8 1358.2 1503.4 1358.2C1505.1 1358.2 1506.8 1358.2 1508.4 1358.2C1510.1 1358.2 1511.8 1358.2 1513.5 1358.2C1515.1 1358.2 1516.8 1358.2 1518.5 1358.2C1520.1 1358.2 1521.8 1358.2 1523.5 1358.2C1525.2 1358.2 1526.8 1358.2 1528.5 1358.2C1530.2 1358.2 1531.8 1358.2 1533.5 1358.2C1535.2 1358.2 1536.8 1358.2 1538.5 1358.2C1540.2 1358.2 1541.9 1358.2 1543.5 1358.2C1545.2 1358.2 1546.9 1358.2 1548.5 1358.3C1550.2 1358.3 1551.9 1358.3 1553.5 1358.3C1555.2 1358.3 1556.9 1358.3 1558.6 1358.3C1560.2 1358.3 1561.9 1358.3 1563.6 1358.3C1565.2 1358.3 1566.9 1358.3 1568.6 1358.3C1570.3 1358.3 1571.9 1358.3 1573.6 1358.3C1575.3 1358.3 1576.9 1358.3 1578.6 1358.3C1580.3 1358.3 1581.9 1358.3 1583.6 1358.3C1585.3 1358.3 1587.0 1358.3 1588.6 1358.3C1590.3 1358.3 1592.0 1358.3 1593.6 1358.3C1595.3 1358.3 1597.0 1358.3 1598.6 1358.3C1600.3 1358.3 1602.0 1358.3 1603.7 1358.3C1605.3 1358.3 1607.0 1358.4 1608.7 1358.4C1610.3 1358.4 1612.0 1358.4 1613.7 1358.4C1615.3 1358.4 1617.0 1358.4 1618.7 1358.4C1620.4 1358.4 1622.0 1358.4 1623.7 1358.4C1625.4 1358.4 1627.0 1358.4 1628.7 1358.4C1630.4 1358.4 1632.1 1358.4 1633.7 1358.4C1635.4 1358.4 1637.1 1358.4 1638.7 1358.4C1640.4 1358.4 1642.1 1358.4 1643.7 1358.4C1645.4 1358.4 1647.1 1358.4 1648.8 1358.4C1650.4 1358.4 1652.1 1358.4 1653.8 1358.4C1655.4 1358.4 1657.1 1358.4 1658.8 1358.4C1660.4 1358.5 1662.1 1358.5 1663.8 1358.5C1665.5 1358.5 1667.1 1358.5 1668.8 1358.5C1670.5 1358.5 1672.1 1358.5 1673.8 1358.5C1675.5 1358.5 1677.2 1358.5 1678.8 1358.5C1680.5 1358.5 1682.2 1358.5 1683.8 1358.5C1685.5 1358.5 1687.2 1358.5 1688.8 1358.5C1690.5 1358.5 1692.2 1358.5 1693.9 1358.5C1695.5 1358.5 1697.2 1358.5 1698.9 1358.5C1700.5 1358.5 1702.2 1358.5 1703.9 1358.5C1705.5 1358.5 1707.2 1358.5 1708.9 1358.5C1710.6 1358.5 1712.2 1358.5 1713.9 1358.5C1715.6 1358.5 1717.2 1358.6 1718.9 1358.6C1720.6 1358.6 1722.2 1358.6 1723.9 1358.6C1725.6 1358.6 1727.3 1358.6 1728.9 1358.6C1730.6 1358.6 1732.3 1358.6 1733.9 1358.6C1735.6 1358.6 1737.3 1358.6 1739.0 1358.6C1740.6 1358.6 1742.3 1358.6 1744.0 1358.6C1745.6 1358.6 1747.3 1358.6 1749.0 1358.6C1750.6 1358.6 1752.3 1358.6 1754.0 1358.6C1755.7 1358.6 1757.3 1358.6 1759.0 1358.6C1760.7 1358.6 1762.3 1358.6 1764.0 1358.6C1765.7 1358.6 1767.3 1358.6 1769.0 1358.6C1770.7 1358.6 1772.4 1358.6 1774.0 1358.6C1775.7 1358.6 1777.4 1358.6 1779.0 1358.6C1780.7 1358.6 1782.4 1358.6 1784.1 1358.6C1785.7 1358.6 1787.4 1358.6 1789.1 1358.6C1790.7 1358.6 1792.4 1358.6 1794.1 1358.6C1795.7 1358.7 1797.4 1358.7 1799.1 1358.7C1800.8 1358.7 1802.4 1358.7 1804.1 1358.7C1805.8 1358.7 1807.4 1358.7 1809.1 1358.7C1810.8 1358.7 1812.4 1358.7 1814.1 1358.7C1815.8 1358.7 1817.5 1358.7 1819.1 1358.7C1820.8 1358.7 1822.5 1358.7 1824.1 1358.7C1825.8 1358.7 1827.5 1358.7 1829.1 1358.7C1830.8 1358.7 1832.5 1358.7 1834.2 1358.7C1835.8 1358.7 1837.5 1358.7 1839.2 1358.7C1840.8 1358.7 1842.5 1358.7 1844.2 1358.7C1845.9 1358.7 1847.5 1358.7 1849.2 1358.7C1850.9 1358.7 1852.5 1358.7 1854.2 1358.7C1855.9 1358.7 1857.5 1358.7 1859.2 1358.7C1860.9 1358.7 1862.6 1358.7 1864.2 1358.7C1865.9 1358.7 1867.6 1358.7 1869.2 1358.7C1870.9 1358.7 1872.6 1358.7 1874.2 1358.7C1875.9 1358.7 1877.6 1358.7 1879.3 1358.7C1880.9 1358.7 1882.6 1358.7 1884.3 1358.7C1885.9 1358.7 1887.6 1358.7 1889.3 1358.7C1891.0 1358.7 1892.6 1358.7 1894.3 1358.7C1896.0 1358.7 1897.6 1358.7 1899.3 1358.7C1901.0 1358.7 1902.6 1358.7 1904.3 1358.7C1906.0 1358.7 1907.7 1358.7 1909.3 1358.7C1911.0 1358.7 1912.7 1358.7 1914.3 1358.6C1916.0 1358.6 1917.7 1358.6 1919.3 1358.6C1921.0 1358.6 1922.7 1358.6 1924.4 1358.6C1926.0 1358.6 1927.7 1358.6 1929.4 1358.6C1931.0 1358.6 1932.7 1358.6 1934.4 1358.6C1936.0 1358.6 1937.7 1358.6 1939.4 1358.6C1941.1 1358.6 1942.7 1358.6 1944.4 1358.6C1946.1 1358.6 1947.7 1358.6 1949.4 1358.6C1951.1 1358.6 1952.8 1358.6 1954.4 1358.6C1956.1 1358.6 1957.8 1358.6 1959.4 1358.6C1961.1 1358.6 1962.8 1358.6 1964.4 1358.6C1966.1 1358.6 1967.8 1358.6 1969.5 1358.6C1971.1 1358.5 1972.8 1358.5 1974.5 1358.5C1976.1 1358.5 1977.8 1358.5 1979.5 1358.5C1981.1 1358.5 1982.8 1358.5 1984.5 1358.5C1986.2 1358.5 1988.7 1358.5 1989.5 1358.5"/>
<path class="c" stroke="#000080" d="M299.5 1376.0C299.9 1374.3 300.9 1370.7 302.0 1366.0C303.1 1361.3 305.3 1351.0 306.0 1348.0L306.0 1348.0C306.8 1347.9 309.4 1347.8 311.0 1347.7C312.7 1347.6 314.4 1347.5 316.0 1347.5C317.7 1347.4 319.4 1347.4 321.1 1347.4C322.7 1347.4 324.4 1347.4 326.1 1347.4C327.7 1347.3 329.4 1347.3 331.1 1347.3C332.8 1347.3 334.4 1347.3 336.1 1347.3C337.8 1347.3 339.4 1347.2 341.1 1347.2C342.8 1347.1 344.5 1347.1 346.1 1347.0C347.8 1347.0 349.5 1346.9 351.1 1346.9C352.8 1346.8 354.5 1346.7 356.2 1346.6C357.8 1346.5 359.5 1346.5 361.2 1346.4C362.9 1346.3 364.5 1346.2 366.2 1346.1C367.9 1346.0 369.6 1345.9 371.2 1345.8C372.9 1345.7 374.6 1345.5 376.3 1345.4C377.9 1345.3 379.6 1345.2 381.3 1345.1C383.0 1345.0 384.6 1344.8 386.3 1344.7C388.0 1344.6 389.7 1344.5 391.3 1344.4C393.0 1344.2 394.7 1344.1 396.4 1344.0C398.0 1343.9 399.7 1343.7 401.4 1343.6C403.1 1343.5 404.7 1343.4 406.4 1343.3C408.1 1343.1 409.8 1343.0 411.4 1342.9C413.1 1342.8 414.8 1342.7 416.5 1342.6C418.1 1342.5 419.8 1342.4 421.5 1342.3C423.2 1342.2 424.8 1342.1 426.5 1342.0C428.2 1341.9 429.9 1341.8 431.5 1341.7C433.2 1341.6 434.9 1341.6 436.5 1341.5C438.2 1341.4 439.9 1341.4 441.6 1341.3C443.2 1341.3 444.9 1341.2 446.6 1341.2C448.3 1341.1 449.9 1341.1 451.6 1341.0C453.3 1341.0 454.9 1341.0 456.6 1341.0C458.3 1340.9 460.0 1340.9 461.6 1340.9C463.3 1340.9 465.0 1340.9 466.6 1340.9C468.3 1340.9 470.0 1340.9 471.7 1340.9C473.3 1340.9 475.0 1341.0 476.7 1341.0C478.3 1341.0 480.0 1341.0 481.7 1341.1C483.3 1341.1 485.0 1341.2 486.7 1341.2C488.4 1341.2 490.0 1341.3 491.7 1341.3C493.4 1341.4 495.0 1341.5 496.7 1341.5C498.4 1341.6 500.0 1341.7 501.7 1341.7C503.4 1341.8 505.1 1341.9 506.7 1342.0C508.4 1342.0 510.1 1342.1 511.7 1342.2C513.4 1342.3 515.1 1342.4 516.8 1342.5C518.4 1342.6 520.1 1342.7 521.8 1342.8C523.4 1342.9 525.1 1343.0 526.8 1343.2C528.4 1343.3 530.1 1343.4 531.8 1343.5C533.5 1343.6 535.1 1343.8 536.8 1343.9C538.5 1344.0 540.1 1344.2 541.8 1344.3C543.5 1344.4 545.2 1344.6 546.8 1344.7C548.5 1344.9 550.2 1345.0 551.8 1345.2C553.5 1345.3 555.2 1345.5 556.9 1345.6C558.5 1345.8 560.2 1345.9 561.9 1346.1C563.5 1346.3 565.2 1346.4 566.9 1346.6C568.6 1346.8 570.2 1346.9 571.9 1347.1C573.6 1347.3 575.3 1347.5 576.9 1347.7C578.6 1347.8 580.3 1348.0 581.9 1348.2C583.6 1348.4 585.3 1348.6 587.0 1348.8C588.6 1348.9 590.3 1349.1 592.0 1349.3C593.7 1349.5 595.3 1349.6 597.0 1349.8C598.7 1350.0 600.4 1350.1 602.0 1350.2C603.7 1350.4 605.4 1350.5 607.1 1350.6C608.7 1350.7 610.4 1350.8 612.1 1350.9C613.8 1350.9 615.4 1351.0 617.1 1351.0C618.8 1351.0 620.5 1351.0 622.1 1351.0C623.8 1351.0 625.5 1350.9 627.2 1350.9C628.8 1350.8 630.5 1350.7 632.2 1350.5C633.8 1350.3 635.5 1350.2 637.2 1349.9C638.9 1349.7 640.5 1349.5 642.2 1349.1C643.8 1348.8 645.5 1348.5 647.1 1348.1C648.8 1347.6 650.4 1347.1 652.0 1346.6C653.5 1346.0 655.1 1345.4 656.6 1344.6C658.1 1343.9 659.5 1343.1 660.9 1342.2C662.3 1341.2 663.7 1340.2 665.0 1339.1C666.3 1338.1 667.5 1336.9 668.7 1335.7C669.9 1334.5 671.1 1333.3 672.2 1332.0C673.3 1330.8 674.4 1329.5 675.4 1328.1C676.5 1326.8 677.4 1325.5 678.4 1324.1C679.3 1322.8 680.3 1321.4 681.1 1320.0C682.0 1318.6 682.9 1317.2 683.7 1315.7C684.5 1314.3 685.3 1312.8 686.0 1311.4C686.8 1309.9 687.5 1308.4 688.2 1306.9C688.8 1305.4 689.5 1303.9 690.1 1302.3C690.8 1300.8 691.4 1299.3 691.9 1297.7C692.5 1296.2 693.1 1294.6 693.6 1293.0C694.2 1291.4 694.7 1289.8 695.2 1288.3C695.7 1286.7 696.1 1285.0 696.6 1283.4C697.1 1281.8 697.5 1280.2 697.9 1278.6C698.4 1276.9 698.8 1275.3 699.2 1273.7C699.6 1272.0 700.0 1270.4 700.4 1268.8C700.8 1267.1 701.2 1265.5 701.5 1263.8C701.9 1262.2 702.3 1260.5 702.6 1258.9C703.0 1257.2 703.3 1255.5 703.7 1253.9C704.1 1252.2 704.4 1250.6 704.7 1248.9C705.1 1247.3 705.4 1245.6 705.8 1244.0C706.1 1242.3 706.4 1240.7 706.8 1239.0C707.1 1237.4 707.4 1235.7 707.8 1234.1C708.1 1232.4 708.4 1230.8 708.7 1229.1C709.0 1227.5 709.4 1225.8 709.7 1224.1C710.0 1222.5 710.3 1220.8 710.6 1219.2C710.9 1217.5 711.2 1215.9 711.5 1214.2C711.8 1212.6 712.1 1210.9 712.4 1209.3C712.7 1207.6 713.0 1206.0 713.3 1204.3C713.6 1202.7 713.8 1201.0 714.1 1199.3C714.4 1197.7 714.7 1196.0 715.0 1194.4C715.2 1192.7 715.5 1191.1 715.8 1189.4C716.1 1187.8 716.3 1186.1 716.6 1184.5C716.9 1182.8 717.1 1181.1 717.4 1179.5C717.6 1177.8 717.9 1176.2 718.2 1174.5C718.4 1172.9 718.7 1171.2 718.9 1169.6C719.2 1167.9 719.4 1166.2 719.7 1164.6C719.9 1162.9 720.2 1161.3 720.4 1159.6C720.7 1158.0 720.9 1156.3 721.1 1154.7C721.4 1153.0 721.6 1151.3 721.9 1149.7C722.1 1148.0 722.3 1146.4 722.6 1144.7C722.8 1143.1 723.0 1141.4 723.2 1139.7C723.5 1138.1 723.7 1136.4 723.9 1134.8C724.2 1133.1 724.4 1131.5 724.6 1129.8C724.8 1128.1 725.0 1126.5 725.3 1124.8C725.5 1123.2 725.7 1121.5 725.9 1119.9C726.1 1118.2 726.4 1116.5 726.6 1114.9C726.8 1113.2 727.0 1111.6 727.2 1109.9C727.4 1108.3 727.6 1106.6 727.9 1104.9C728.1 1103.3 728.3 1101.6 728.5 1100.0C728.7 1098.3 728.9 1096.6 729.1 1095.0C729.3 1093.3 729.5 1091.7 729.7 1090.0C729.9 1088.3 730.1 1086.7 730.3 1085.0C730.5 1083.4 730.8 1081.7 731.0 1080.1C731.2 1078.4 731.4 1076.7 731.6 1075.1C731.8 1073.4 732.0 1071.8 732.2 1070.1C732.4 1068.4 732.6 1066.8 732.8 1065.1C733.0 1063.5 733.2 1061.8 733.4 1060.1C733.6 1058.5 733.8 1056.8 734.0 1055.2C734.2 1053.5 734.4 1051.8 734.6 1050.2C734.8 1048.5 735.0 1046.9 735.2 1045.2C735.4 1043.5 735.6 1041.9 735.8 1040.2C736.0 1038.5 736.2 1036.9 736.4 1035.2C736.6 1033.6 736.8 1031.9 737.0 1030.2C737.2 1028.6 737.4 1026.9 737.6 1025.3C737.8 1023.6 738.0 1021.9 738.2 1020.3C738.4 1018.6 738.6 1016.9 738.8 1015.3C739.0 1013.6 739.2 1012.0 739.4 1010.3C739.6 1008.6 739.8 1007.0 740.0 1005.3C740.2 1003.6 740.4 1002.0 740.7 1000.3C740.9 998.7 741.1 997.0 741.3 995.3C741.5 993.7 741.7 992.0 741.9 990.3C742.1 988.7 742.3 987.0 742.6 985.4C742.8 983.7 743.0 982.0 743.2 980.4C743.4 978.7 743.7 977.0 743.9 975.4C744.1 973.7 744.3 972.0 744.5 970.4C744.8 968.7 745.0 967.1 745.2 965.4C745.4 963.7 745.7 962.1 745.9 960.4C746.1 958.7 746.4 957.1 746.6 955.4C746.8 953.8 747.1 952.1 747.3 950.4C747.6 948.8 747.8 947.1 748.1 945.4C748.3 943.8 748.6 942.1 748.8 940.5C749.1 938.8 749.3 937.1 749.6 935.5C749.8 933.8 750.1 932.2 750.3 930.5C750.6 928.9 750.9 927.2 751.1 925.5C751.4 923.9 751.7 922.2 752.0 920.6C752.2 918.9 752.5 917.3 752.8 915.6C753.1 914.0 753.4 912.3 753.7 910.7C754.0 909.0 754.3 907.4 754.5 905.7C754.8 904.1 755.2 902.4 755.5 900.8C755.8 899.1 756.1 897.5 756.4 895.8C756.7 894.2 757.0 892.5 757.3 890.9C757.7 889.2 758.0 887.6 758.3 886.0C758.7 884.3 759.0 882.7 759.3 881.0C759.7 879.4 760.0 877.8 760.4 876.1C760.7 874.5 761.1 872.9 761.5 871.2C761.8 869.6 762.2 868.0 762.6 866.3C762.9 864.7 763.3 863.1 763.7 861.4C764.1 859.8 764.5 858.2 764.8 856.6C765.2 854.9 765.6 853.3 766.0 851.7C766.5 850.1 766.9 848.4 767.3 846.8C767.7 845.2 768.1 843.6 768.6 842.0C769.0 840.4 769.4 838.7 769.9 837.1C770.3 835.5 771.0 833.1 771.2 832.3L774.0 832.3C774.3 833.1 775.1 835.5 775.6 837.1C776.1 838.6 776.6 840.2 777.0 841.9C777.5 843.5 777.9 845.1 778.3 846.7C778.7 848.3 779.1 849.9 779.4 851.6C779.8 853.2 780.2 854.8 780.5 856.5C780.8 858.1 781.1 859.7 781.4 861.4C781.8 863.0 782.1 864.7 782.4 866.3C782.7 868.0 782.9 869.6 783.2 871.3C783.5 872.9 783.8 874.6 784.1 876.2C784.4 877.9 784.7 879.5 785.0 881.2C785.3 882.8 785.5 884.5 785.8 886.1C786.1 887.7 786.4 889.4 786.7 891.0C787.0 892.7 787.3 894.3 787.5 896.0C787.8 897.6 788.1 899.3 788.4 900.9C788.6 902.6 788.9 904.2 789.2 905.9C789.5 907.5 789.7 909.2 790.0 910.8C790.3 912.5 790.5 914.1 790.8 915.8C791.1 917.4 791.3 919.1 791.6 920.7C791.8 922.4 792.1 924.0 792.3 925.7C792.6 927.3 792.8 929.0 793.1 930.6C793.3 932.3 793.6 934.0 793.8 935.6C794.0 937.3 794.3 938.9 794.5 940.6C794.7 942.2 795.0 943.9 795.2 945.5C795.4 947.2 795.6 948.8 795.8 950.5C796.1 952.2 796.3 953.8 796.5 955.5C796.7 957.1 796.9 958.8 797.1 960.4C797.3 962.1 797.6 963.8 797.8 965.4C798.0 967.1 798.2 968.7 798.4 970.4C798.6 972.1 798.8 973.7 799.0 975.4C799.2 977.0 799.4 978.7 799.6 980.4C799.8 982.0 799.9 983.7 800.1 985.3C800.3 987.0 800.5 988.7 800.7 990.3C800.9 992.0 801.1 993.6 801.3 995.3C801.5 997.0 801.6 998.6 801.8 1000.3C802.0 1001.9 802.2 1003.6 802.4 1005.3C802.6 1006.9 802.7 1008.6 802.9 1010.2C803.1 1011.9 803.3 1013.6 803.5 1015.2C803.6 1016.9 803.8 1018.6 804.0 1020.2C804.2 1021.9 804.4 1023.5 804.5 1025.2C804.7 1026.9 804.9 1028.5 805.1 1030.2C805.3 1031.9 805.4 1033.5 805.6 1035.2C805.8 1036.8 806.0 1038.5 806.2 1040.2C806.4 1041.8 806.5 1043.5 806.7 1045.1C806.9 1046.8 807.1 1048.5 807.3 1050.1C807.4 1051.8 807.6 1053.5 807.8 1055.1C808.0 1056.8 808.2 1058.4 808.4 1060.1C808.6 1061.8 808.8 1063.4 808.9 1065.1C809.1 1066.7 809.3 1068.4 809.5 1070.1C809.7 1071.7 809.9 1073.4 810.1 1075.0C810.3 1076.7 810.5 1078.4 810.7 1080.0C810.9 1081.7 811.1 1083.3 811.3 1085.0C811.5 1086.7 811.7 1088.3 811.9 1090.0C812.1 1091.6 812.3 1093.3 812.5 1095.0C812.7 1096.6 812.9 1098.3 813.2 1099.9C813.4 1101.6 813.6 1103.2 813.8 1104.9C814.0 1106.6 814.2 1108.2 814.5 1109.9C814.7 1111.5 814.9 1113.2 815.1 1114.8C815.3 1116.5 815.6 1118.2 815.8 1119.8C816.0 1121.5 816.2 1123.1 816.5 1124.8C816.7 1126.4 816.9 1128.1 817.2 1129.7C817.4 1131.4 817.6 1133.0 817.9 1134.7C818.1 1136.4 818.4 1138.0 818.6 1139.7C818.8 1141.3 819.1 1143.0 819.3 1144.6C819.6 1146.3 819.8 1147.9 820.1 1149.6C820.3 1151.2 820.6 1152.9 820.8 1154.5C821.1 1156.2 821.4 1157.8 821.6 1159.5C821.9 1161.1 822.1 1162.8 822.4 1164.4C822.7 1166.1 822.9 1167.7 823.2 1169.4C823.5 1171.0 823.8 1172.7 824.0 1174.3C824.3 1176.0 824.6 1177.6 824.9 1179.3C825.1 1180.9 825.4 1182.6 825.7 1184.2C826.0 1185.9 826.3 1187.5 826.6 1189.2C826.9 1190.8 827.1 1192.5 827.4 1194.1C827.7 1195.7 828.0 1197.4 828.3 1199.0C828.6 1200.7 828.9 1202.3 829.2 1204.0C829.5 1205.6 829.9 1207.3 830.2 1208.9C830.5 1210.5 830.8 1212.2 831.1 1213.8C831.4 1215.5 831.8 1217.1 832.1 1218.7C832.4 1220.4 832.7 1222.0 833.1 1223.7C833.4 1225.3 833.8 1226.9 834.1 1228.6C834.4 1230.2 834.8 1231.8 835.2 1233.5C835.5 1235.1 835.9 1236.7 836.3 1238.4C836.6 1240.0 837.0 1241.6 837.4 1243.2C837.8 1244.9 838.2 1246.5 838.6 1248.1C839.0 1249.7 839.4 1251.3 839.8 1253.0C840.3 1254.6 840.7 1256.2 841.1 1257.8C841.6 1259.4 842.0 1261.0 842.5 1262.6C842.9 1264.2 843.4 1265.8 843.9 1267.4C844.4 1269.0 844.9 1270.6 845.4 1272.2C845.9 1273.8 846.4 1275.4 846.9 1277.0C847.5 1278.5 848.0 1280.1 848.6 1281.7C849.1 1283.3 849.7 1284.9 850.3 1286.4C850.8 1288.0 851.4 1289.6 852.1 1291.1C852.7 1292.7 853.3 1294.2 853.9 1295.8C854.6 1297.3 855.2 1298.9 855.9 1300.4C856.6 1302.0 857.2 1303.5 857.9 1305.0C858.6 1306.6 859.4 1308.1 860.1 1309.6C860.8 1311.1 861.6 1312.7 862.4 1314.1C863.2 1315.6 864.0 1317.1 864.8 1318.6C865.7 1320.0 866.5 1321.4 867.4 1322.8C868.4 1324.2 869.3 1325.6 870.3 1326.9C871.3 1328.3 872.3 1329.6 873.4 1330.8C874.5 1332.1 875.6 1333.3 876.7 1334.5C877.9 1335.6 879.1 1336.7 880.4 1337.8C881.7 1338.9 883.0 1339.9 884.3 1340.9C885.7 1341.9 887.1 1342.8 888.5 1343.7C889.9 1344.6 891.4 1345.4 892.9 1346.2C894.4 1347.0 895.9 1347.7 897.4 1348.4C898.9 1349.1 900.5 1349.8 902.1 1350.4C903.6 1351.0 905.2 1351.6 906.8 1352.1C908.4 1352.7 910.0 1353.2 911.6 1353.6C913.2 1354.1 914.9 1354.5 916.5 1354.8C918.1 1355.2 919.7 1355.5 921.4 1355.8C923.0 1356.1 924.7 1356.4 926.3 1356.6C927.9 1356.8 929.6 1357.0 931.2 1357.2C932.9 1357.4 934.5 1357.5 936.2 1357.6C937.9 1357.8 939.5 1357.9 941.2 1357.9C942.8 1358.0 944.5 1358.1 946.2 1358.1C947.9 1358.1 949.5 1358.2 951.2 1358.2C952.9 1358.2 954.5 1358.2 956.2 1358.2C957.9 1358.2 959.6 1358.2 961.3 1358.1C962.9 1358.1 964.6 1358.1 966.3 1358.0C968.0 1358.0 969.7 1358.0 971.4 1357.9C973.0 1357.9 974.7 1357.9 976.4 1357.9C978.1 1357.8 979.8 1357.8 981.5 1357.8C983.1 1357.8 984.8 1357.8 986.5 1357.8C988.2 1357.8 989.9 1357.7 991.5 1357.7C993.2 1357.7 994.9 1357.7 996.6 1357.7C998.3 1357.7 999.9 1357.7 1001.6 1357.7C1003.3 1357.7 1005.0 1357.7 1006.7 1357.7C1008.3 1357.7 1010.0 1357.6 1011.7 1357.6C1013.4 1357.6 1015.0 1357.6 1016.7 1357.5C1018.4 1357.5 1020.0 1357.4 1021.7 1357.4C1023.4 1357.3 1025.0 1357.3 1026.7 1357.2C1028.4 1357.1 1030.0 1357.0 1031.7 1356.9C1033.4 1356.8 1035.0 1356.7 1036.7 1356.6C1038.3 1356.5 1040.0 1356.3 1041.6 1356.2C1043.3 1356.0 1044.9 1355.9 1046.6 1355.7C1048.2 1355.5 1049.9 1355.3 1051.5 1355.1C1053.2 1354.8 1054.8 1354.6 1056.5 1354.3C1058.1 1354.1 1059.7 1353.8 1061.4 1353.5C1063.0 1353.2 1064.6 1352.9 1066.3 1352.6C1067.9 1352.2 1069.5 1351.9 1071.2 1351.5C1072.8 1351.2 1074.4 1350.8 1076.0 1350.4C1077.7 1350.0 1079.3 1349.6 1080.9 1349.2C1082.5 1348.8 1084.1 1348.4 1085.8 1348.0C1087.4 1347.5 1089.0 1347.1 1090.6 1346.6C1092.2 1346.2 1093.9 1345.7 1095.5 1345.2C1097.1 1344.7 1098.7 1344.3 1100.3 1343.8C1101.9 1343.3 1103.5 1342.8 1105.1 1342.2C1106.8 1341.7 1108.4 1341.2 1110.0 1340.7C1111.6 1340.1 1113.2 1339.6 1114.8 1339.1C1116.4 1338.5 1118.0 1338.0 1119.6 1337.5C1121.2 1337.0 1122.8 1336.4 1124.5 1335.9C1126.1 1335.4 1127.7 1334.9 1129.3 1334.5C1130.9 1334.0 1132.5 1333.6 1134.1 1333.1C1135.7 1332.7 1137.4 1332.3 1139.0 1331.9C1140.6 1331.6 1142.2 1331.2 1143.8 1330.9C1145.5 1330.6 1147.1 1330.4 1148.7 1330.2C1150.3 1329.9 1152.0 1329.8 1153.6 1329.6C1155.2 1329.5 1156.9 1329.5 1158.5 1329.4C1160.1 1329.4 1161.8 1329.5 1163.4 1329.6C1165.1 1329.6 1166.7 1329.8 1168.3 1330.0C1170.0 1330.2 1171.6 1330.4 1173.3 1330.7C1174.9 1330.9 1176.6 1331.2 1178.2 1331.6C1179.9 1331.9 1181.5 1332.3 1183.2 1332.7C1184.8 1333.1 1186.5 1333.5 1188.1 1334.0C1189.7 1334.5 1191.4 1334.9 1193.0 1335.4C1194.6 1335.9 1196.3 1336.5 1197.9 1337.0C1199.5 1337.5 1201.1 1338.1 1202.7 1338.6C1204.3 1339.2 1206.0 1339.7 1207.6 1340.3C1209.2 1340.9 1210.7 1341.4 1212.3 1342.0C1213.9 1342.6 1215.5 1343.1 1217.1 1343.7C1218.6 1344.3 1220.2 1344.8 1221.8 1345.3C1223.3 1345.9 1224.9 1346.4 1226.4 1346.9C1228.0 1347.5 1229.6 1348.0 1231.1 1348.5C1232.7 1349.0 1234.3 1349.5 1235.9 1349.9C1237.4 1350.4 1239.0 1350.8 1240.6 1351.3C1242.2 1351.7 1243.8 1352.1 1245.5 1352.5C1247.1 1352.9 1248.7 1353.2 1250.3 1353.6C1252.0 1353.9 1253.6 1354.2 1255.3 1354.5C1256.9 1354.8 1258.6 1355.1 1260.3 1355.4C1261.9 1355.6 1263.6 1355.9 1265.3 1356.1C1267.0 1356.3 1268.6 1356.5 1270.3 1356.7C1272.0 1356.9 1273.6 1357.0 1275.3 1357.2C1277.0 1357.3 1278.7 1357.5 1280.3 1357.6C1282.0 1357.7 1283.7 1357.8 1285.3 1357.8C1287.0 1357.9 1288.7 1358.0 1290.3 1358.0C1292.0 1358.1 1293.7 1358.1 1295.3 1358.2C1297.0 1358.2 1298.7 1358.2 1300.3 1358.2C1302.0 1358.2 1303.7 1358.2 1305.4 1358.2C1307.0 1358.2 1308.7 1358.2 1310.4 1358.2C1312.0 1358.2 1313.7 1358.2 1315.4 1358.2C1317.0 1358.2 1318.7 1358.1 1320.4 1358.1C1322.1 1358.1 1323.7 1358.1 1325.4 1358.0C1327.1 1358.0 1328.8 1358.0 1330.4 1357.9C1332.1 1357.9 1333.8 1357.8 1335.5 1357.8C1337.1 1357.7 1338.8 1357.6 1340.5 1357.6C1342.2 1357.5 1343.8 1357.4 1345.5 1357.3C1347.2 1357.2 1348.8 1357.0 1350.5 1356.9C1352.2 1356.8 1353.8 1356.6 1355.5 1356.5C1357.2 1356.3 1358.8 1356.1 1360.5 1355.9C1362.1 1355.7 1363.8 1355.5 1365.4 1355.2C1367.1 1355.0 1368.7 1354.7 1370.4 1354.5C1372.0 1354.2 1373.7 1353.9 1375.3 1353.6C1377.0 1353.3 1378.6 1353.0 1380.2 1352.6C1381.9 1352.3 1383.5 1351.9 1385.1 1351.6C1386.8 1351.2 1388.4 1350.8 1390.0 1350.4C1391.6 1350.0 1393.3 1349.6 1394.9 1349.2C1396.5 1348.8 1398.1 1348.3 1399.7 1347.9C1401.3 1347.4 1402.9 1347.0 1404.5 1346.5C1406.1 1346.0 1407.7 1345.5 1409.3 1345.0C1410.9 1344.5 1412.5 1344.0 1414.1 1343.5C1415.7 1343.0 1417.3 1342.4 1418.9 1341.9C1420.5 1341.3 1422.0 1340.8 1423.6 1340.2C1425.2 1339.7 1426.8 1339.1 1428.4 1338.5C1429.9 1338.0 1431.5 1337.4 1433.1 1336.9C1434.7 1336.3 1436.2 1335.7 1437.8 1335.2C1439.4 1334.6 1441.0 1334.1 1442.6 1333.6C1444.2 1333.0 1445.7 1332.5 1447.3 1332.0C1448.9 1331.5 1450.5 1331.0 1452.1 1330.5C1453.7 1330.1 1455.3 1329.6 1456.9 1329.2C1458.5 1328.8 1460.2 1328.4 1461.8 1328.0C1463.4 1327.6 1465.0 1327.3 1466.7 1327.0C1468.3 1326.7 1470.0 1326.4 1471.6 1326.1C1473.3 1325.9 1474.9 1325.6 1476.6 1325.4C1478.3 1325.2 1479.9 1325.1 1481.6 1324.9C1483.3 1324.8 1484.9 1324.7 1486.6 1324.6C1488.3 1324.5 1490.0 1324.5 1491.7 1324.5C1493.3 1324.5 1495.0 1324.5 1496.7 1324.5C1498.4 1324.5 1500.1 1324.6 1501.7 1324.7C1503.4 1324.8 1505.1 1324.9 1506.8 1325.1C1508.4 1325.2 1510.1 1325.4 1511.8 1325.6C1513.4 1325.8 1515.1 1326.1 1516.7 1326.3C1518.4 1326.6 1520.0 1326.9 1521.7 1327.2C1523.3 1327.5 1524.9 1327.9 1526.6 1328.2C1528.2 1328.6 1529.8 1329.0 1531.4 1329.4C1533.0 1329.8 1534.6 1330.3 1536.2 1330.7C1537.9 1331.2 1539.4 1331.7 1541.0 1332.2C1542.6 1332.7 1544.2 1333.2 1545.8 1333.7C1547.4 1334.2 1549.0 1334.8 1550.6 1335.3C1552.1 1335.8 1553.7 1336.4 1555.3 1337.0C1556.9 1337.5 1558.5 1338.1 1560.0 1338.6C1561.6 1339.2 1563.2 1339.8 1564.8 1340.4C1566.3 1340.9 1567.9 1341.5 1569.5 1342.1C1571.1 1342.6 1572.7 1343.2 1574.2 1343.7C1575.8 1344.3 1577.4 1344.8 1579.0 1345.4C1580.6 1345.9 1582.2 1346.4 1583.8 1346.9C1585.4 1347.5 1586.9 1348.0 1588.5 1348.5C1590.1 1348.9 1591.8 1349.4 1593.4 1349.9C1595.0 1350.3 1596.6 1350.8 1598.2 1351.2C1599.8 1351.7 1601.4 1352.1 1603.0 1352.5C1604.7 1352.9 1606.3 1353.3 1607.9 1353.6C1609.5 1354.0 1611.2 1354.4 1612.8 1354.7C1614.4 1355.0 1616.1 1355.4 1617.7 1355.6C1619.3 1355.9 1621.0 1356.2 1622.6 1356.5C1624.3 1356.7 1625.9 1357.0 1627.6 1357.2C1629.2 1357.4 1630.9 1357.6 1632.5 1357.8C1634.2 1358.0 1635.8 1358.1 1637.5 1358.3C1639.2 1358.4 1640.8 1358.5 1642.5 1358.6C1644.2 1358.7 1645.8 1358.7 1647.5 1358.8C1649.2 1358.8 1650.9 1358.9 1652.5 1358.9C1654.2 1358.9 1655.9 1358.9 1657.6 1358.9C1659.2 1358.9 1660.9 1358.9 1662.6 1358.8C1664.3 1358.8 1665.9 1358.8 1667.6 1358.8C1669.3 1358.7 1671.0 1358.7 1672.7 1358.7C1674.3 1358.6 1676.0 1358.6 1677.7 1358.6C1679.4 1358.5 1681.1 1358.5 1682.7 1358.5C1684.4 1358.5 1686.1 1358.5 1687.8 1358.5C1689.4 1358.5 1691.1 1358.5 1692.8 1358.5C1694.5 1358.5 1696.1 1358.6 1697.8 1358.6C1699.5 1358.7 1701.1 1358.8 1702.8 1358.8C1704.5 1358.9 1706.1 1359.0 1707.8 1359.1C1709.4 1359.2 1711.1 1359.3 1712.8 1359.4C1714.4 1359.4 1716.1 1359.5 1717.8 1359.5C1719.4 1359.5 1721.1 1359.4 1722.8 1359.3C1724.4 1359.2 1726.1 1359.1 1727.8 1358.9C1729.4 1358.7 1731.1 1358.4 1732.8 1358.1C1734.4 1357.8 1736.1 1357.4 1737.7 1357.0C1739.3 1356.5 1741.0 1356.1 1742.6 1355.5C1744.2 1355.0 1745.8 1354.5 1747.4 1353.8C1748.9 1353.2 1750.5 1352.6 1752.0 1351.9C1753.5 1351.2 1755.0 1350.4 1756.5 1349.6C1758.0 1348.8 1759.4 1348.0 1760.8 1347.1C1762.2 1346.2 1763.6 1345.3 1764.9 1344.3C1766.3 1343.4 1767.6 1342.4 1768.9 1341.3C1770.1 1340.3 1771.4 1339.3 1772.7 1338.2C1773.9 1337.1 1775.1 1336.0 1776.3 1334.8C1777.5 1333.7 1778.7 1332.5 1779.9 1331.3C1781.1 1330.1 1782.2 1328.9 1783.4 1327.7C1784.5 1326.5 1785.7 1325.2 1786.8 1324.0C1787.9 1322.7 1789.1 1321.5 1790.2 1320.2C1791.3 1318.9 1792.4 1317.6 1793.6 1316.4C1794.7 1315.1 1795.8 1313.8 1797.0 1312.5C1798.1 1311.3 1799.3 1310.0 1800.5 1308.8C1801.7 1307.6 1802.9 1306.4 1804.1 1305.3C1805.3 1304.1 1806.6 1303.0 1807.9 1302.0C1809.1 1300.9 1810.5 1299.9 1811.8 1299.0C1813.2 1298.0 1814.6 1297.2 1816.0 1296.4C1817.5 1295.6 1819.0 1294.8 1820.5 1294.2C1822.1 1293.6 1823.7 1293.0 1825.3 1292.6C1826.9 1292.2 1828.6 1291.9 1830.3 1291.9C1831.9 1291.8 1833.5 1291.9 1835.2 1292.1C1836.8 1292.4 1838.4 1292.8 1840.0 1293.3C1841.5 1293.8 1843.1 1294.5 1844.6 1295.2C1846.2 1295.9 1847.7 1296.8 1849.1 1297.6C1850.6 1298.4 1852.0 1299.4 1853.4 1300.3C1854.8 1301.2 1856.2 1302.2 1857.5 1303.2C1858.9 1304.2 1860.2 1305.2 1861.5 1306.2C1862.9 1307.3 1864.2 1308.3 1865.5 1309.4C1866.8 1310.4 1868.1 1311.5 1869.4 1312.5C1870.7 1313.5 1872.1 1314.6 1873.4 1315.6C1874.7 1316.6 1876.1 1317.6 1877.4 1318.5C1878.8 1319.5 1880.2 1320.4 1881.6 1321.3C1883.0 1322.2 1884.4 1323.1 1885.8 1323.9C1887.3 1324.8 1888.7 1325.6 1890.1 1326.4C1891.6 1327.3 1893.1 1328.1 1894.6 1328.8C1896.0 1329.6 1897.5 1330.4 1899.0 1331.1C1900.5 1331.8 1902.0 1332.5 1903.5 1333.3C1905.1 1334.0 1906.6 1334.6 1908.1 1335.3C1909.7 1336.0 1911.2 1336.7 1912.7 1337.3C1914.3 1338.0 1915.8 1338.6 1917.4 1339.2C1919.0 1339.9 1920.5 1340.5 1922.1 1341.1C1923.6 1341.7 1925.2 1342.3 1926.8 1342.9C1928.4 1343.5 1929.9 1344.1 1931.5 1344.7C1933.1 1345.3 1934.6 1345.9 1936.2 1346.4C1937.8 1347.0 1939.3 1347.6 1940.9 1348.2C1942.5 1348.7 1944.1 1349.3 1945.6 1349.8C1947.2 1350.4 1948.8 1350.9 1950.4 1351.4C1952.0 1352.0 1953.5 1352.5 1955.1 1353.0C1956.7 1353.5 1958.3 1353.9 1959.9 1354.4C1961.5 1354.8 1963.1 1355.3 1964.7 1355.7C1966.3 1356.1 1967.9 1356.5 1969.6 1356.8C1971.2 1357.2 1972.8 1357.5 1974.5 1357.8C1976.1 1358.1 1977.8 1358.4 1979.4 1358.6C1981.1 1358.8 1982.7 1359.1 1984.4 1359.2C1986.1 1359.4 1988.7 1359.5 1989.5 1359.6"/>
</g>
<g class="f" stroke-width="5.2">
<path d="M271 1358.6H297.5M283.5 1227.6H297.5M271 1096.7H297.5M283.5 965.7H297.5M271 834.8H297.5M283.5 703.8H297.5M271 572.8H297.5M283.5 441.9H297.5M271 310.9H297.5M283.5 180.0H297.5M429.5 1424.5V1451M559.5 1424.5V1438M689.5 1424.5V1451M819.5 1424.5V1438M949.5 1424.5V1451M1079.5 1424.5V1438M1209.5 1424.5V1451M1339.5 1424.5V1438M1469.5 1424.5V1451M1599.5 1424.5V1438M1729.5 1424.5V1451M1859.5 1424.5V1438"/>
</g>
<text class="b" font-size="64.29" transform="translate(218.59 1375.60) scale(1.0000 1)">0</text>
<text class="b" font-size="64.29" transform="translate(184.19 1113.68) scale(0.9769 1)">20</text>
<text class="b" font-size="64.29" transform="translate(184.16 851.76) scale(0.9773 1)">40</text>
<text class="b" font-size="64.29" transform="translate(184.20 589.84) scale(0.9768 1)">60</text>
<text class="b" font-size="64.29" transform="translate(184.19 327.92) scale(0.9769 1)">80</text>
<text class="b" font-size="64.29" transform="translate(150.13 66.00) scale(0.9693 1)">100</text>
<text class="b" font-size="64.29" transform="translate(384.11 1516.80) scale(0.9846 1)">0.0</text>
<text class="b" font-size="64.29" transform="translate(644.11 1516.80) scale(0.9846 1)">0.2</text>
<text class="b" font-size="64.29" transform="translate(904.11 1516.80) scale(0.9850 1)">0.4</text>
<text class="b" font-size="64.29" transform="translate(1164.11 1516.80) scale(0.9846 1)">0.6</text>
<text class="b" font-size="64.29" transform="translate(1424.11 1516.80) scale(0.9847 1)">0.8</text>
<text class="b" font-size="64.29" transform="translate(1684.13 1516.80) scale(0.9843 1)">1.0</text>
<text class="b" font-size="64.29" transform="translate(1944.13 1516.80) scale(0.9843 1)">1.2</text>
<text class="n" font-size="85.94" transform="translate(919.28 1640.40) scale(0.9484 1)">Potential (V)</text>
<text class="n" transform="translate(81.80 0) rotate(-90)"><tspan x="-1012.93" font-size="85.94" textLength="318.26" lengthAdjust="spacingAndGlyphs">Current (</tspan><tspan class="s" x="-696.73" font-size="71.74" textLength="48.45" lengthAdjust="spacingAndGlyphs">μ</tspan><tspan x="-649.91" font-size="85.94" textLength="82.57" lengthAdjust="spacingAndGlyphs">A)</tspan></text>
<rect x="1213" y="82" width="528.5" height="318.5" fill="#fff"/>
<path d="M1216 83.5H1740V399H1216" fill="none" stroke="#444" stroke-width="3"/>
<path d="M1214.5 82V400.5" fill="none" stroke="#808080" stroke-width="3"/>
<path d="M1217.5 85V397.5" fill="none" stroke="#c4c4c4" stroke-width="3"/>
<path d="M1238.5 127H1383" stroke="#addfb3" stroke-width="9" stroke-linecap="round" fill="none"/>
<text class="n" font-size="64.06" transform="translate(1397.67 147.60) scale(1.0007 1)">Blank DPV</text>
<path d="M1238.5 205.3H1383" stroke="#028402" stroke-width="9" stroke-linecap="round" fill="none"/>
<text class="n" transform="translate(0 226.30)"><tspan x="1398.48" font-size="64.06" textLength="242.10" lengthAdjust="spacingAndGlyphs">PQS 50 </tspan><tspan class="s" x="1637.51" font-size="59.57" textLength="36.82" lengthAdjust="spacingAndGlyphs">μ</tspan><tspan x="1670.89" font-size="64.06" textLength="55.29" lengthAdjust="spacingAndGlyphs">M</tspan></text>
<path d="M1238.5 284.2H1383" stroke="#4cc8ff" stroke-width="9" stroke-linecap="round" fill="none"/>
<text class="n" font-size="64.06" transform="translate(1397.76 305.00) scale(0.9838 1)">Blank SWV</text>
<path d="M1238.5 363H1383" stroke="#000080" stroke-width="9" stroke-linecap="round" fill="none"/>
<text class="n" transform="translate(0 384.60)"><tspan x="1398.48" font-size="64.06" textLength="242.10" lengthAdjust="spacingAndGlyphs">PQS 50 </tspan><tspan class="s" x="1637.51" font-size="59.57" textLength="36.82" lengthAdjust="spacingAndGlyphs">μ</tspan><tspan x="1670.89" font-size="64.06" textLength="55.29" lengthAdjust="spacingAndGlyphs">M</tspan></text>
</svg>
</body>
</html>
